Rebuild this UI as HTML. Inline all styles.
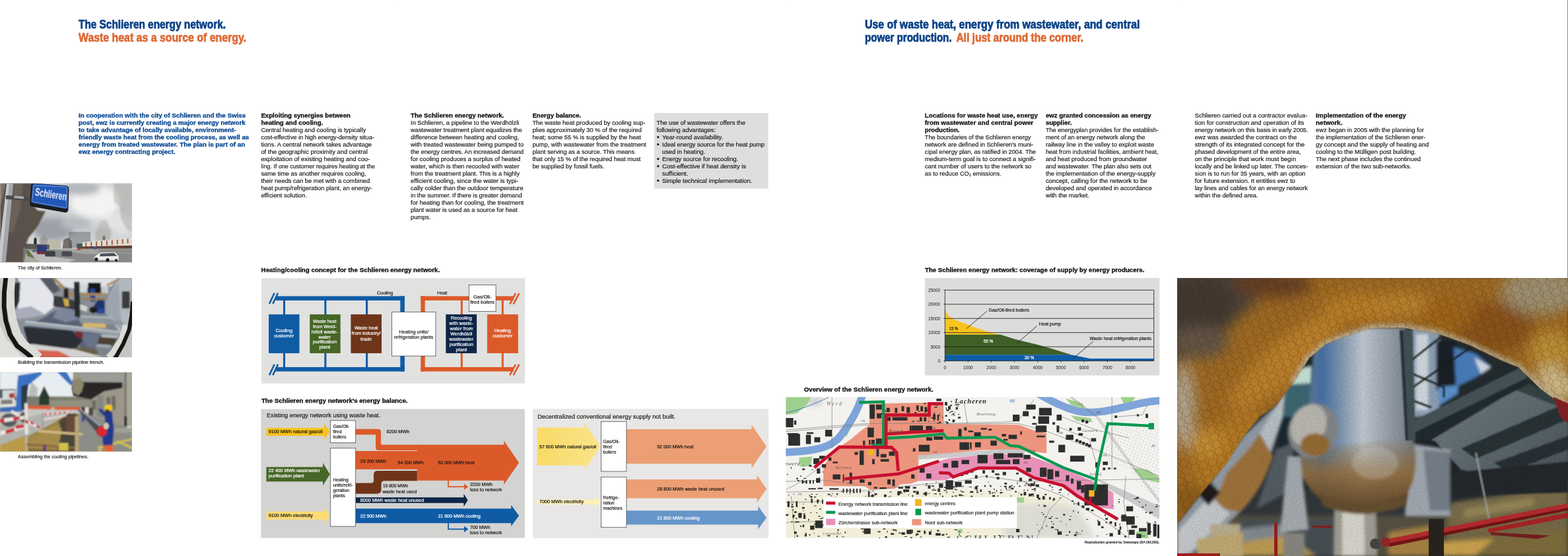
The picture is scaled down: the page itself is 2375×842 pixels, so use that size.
<!DOCTYPE html>
<html lang="en"><head><meta charset="utf-8"><title>The Schlieren energy network</title>
<style>
html,body{margin:0;padding:0;background:#fff}
body{width:2375px;height:842px;overflow:hidden;position:relative}
svg{position:absolute;left:0;top:0;display:block}
svg text{font-family:"Liberation Sans",sans-serif;white-space:pre}
</style></head><body>
<svg width="2375" height="842" viewBox="0 0 2375 842">
<rect x="2374" y="0" width="1" height="421" fill="#8a8a8a"/>
<g fill="#e9e9e9"><rect x="595" y="0" width="1" height="1"/><rect x="1190" y="0" width="1" height="1"/><rect x="1783" y="0" width="1" height="1"/></g>
<rect x="991" y="171.2" width="172.5" height="114.5" fill="#dededd"/>
<rect x="995.3" y="206.2" width="2.9" height="2.9" fill="#1d1d1b"/>
<rect x="995.3" y="217.2" width="2.9" height="2.9" fill="#1d1d1b"/>
<rect x="995.3" y="239.2" width="2.9" height="2.9" fill="#1d1d1b"/>
<rect x="995.3" y="250.2" width="2.9" height="2.9" fill="#1d1d1b"/>
<rect x="995.3" y="272.1" width="2.9" height="2.9" fill="#1d1d1b"/>
<g id="photos">
<svg x="0" y="277" width="200" height="121" viewBox="0 0 1392 842" preserveAspectRatio="none" overflow="hidden">
<defs>
<filter id="pb3" x="-10%" y="-10%" width="120%" height="120%"><feGaussianBlur stdDeviation="3"/></filter>
<filter id="pb6" x="-10%" y="-10%" width="120%" height="120%"><feGaussianBlur stdDeviation="6"/></filter>
<filter id="pb15" x="-20%" y="-20%" width="140%" height="140%"><feGaussianBlur stdDeviation="15"/></filter>
<filter id="pb30" x="-30%" y="-30%" width="160%" height="160%"><feGaussianBlur stdDeviation="30"/></filter>
</defs>
<clipPath id="p1c"><rect x="0" y="4" width="1392" height="832"/></clipPath>
<g clip-path="url(#p1c)">
<rect x="0" y="0" width="1392" height="842" fill="#d3d5d7"/>
<g filter="url(#pb30)">
<ellipse cx="1000" cy="200" rx="260" ry="170" fill="#f3f3f3"/>
<ellipse cx="1250" cy="430" rx="200" ry="100" fill="#e3e3e3"/>
<ellipse cx="860" cy="60" rx="200" ry="70" fill="#b4b8bc"/>
<ellipse cx="560" cy="480" rx="220" ry="130" fill="#9ca1a8"/>
<ellipse cx="800" cy="420" rx="160" ry="70" fill="#b7babf"/>
<ellipse cx="1000" cy="520" rx="200" ry="60" fill="#c9cbce"/>
<ellipse cx="560" cy="330" rx="120" ry="50" fill="#c4c6c9"/>
</g>
<g filter="url(#pb6)">
<path d="M1200 0 L1392 0 L1392 520 L1330 480 L1280 380 L1260 250 L1200 200 Z" fill="#8b8078" fill-opacity="0.3"/>
<path d="M1000 660 L1010 520 L1060 400 L1120 390 L1170 500 L1160 660 Z" fill="#8a847c" fill-opacity="0.3"/>
<path d="M1085 560 L1105 560 L1108 670 L1088 670 Z" fill="#5a5048"/>
<path d="M410 680 L425 580 L470 550 L505 600 L500 680 Z" fill="#8a857e" fill-opacity="0.6"/>
</g>
<g filter="url(#pb3)">
<rect x="725" y="515" width="230" height="170" fill="#596068" fill-opacity="0.45"/>
<path d="M660 690 L670 600 L720 575 L755 610 L760 690 Z" fill="#4c4641" fill-opacity="0.7"/>
<path d="M500 610 L570 590 L640 612 L640 690 L500 690 Z" fill="#bdb9a8"/>
<path d="M355 690 L358 590 L372 572 L386 590 L388 690 Z" fill="#26322a"/>
<path d="M260 640 L520 650 L520 700 L260 700 Z" fill="#5b5a54"/>
<path d="M870 625 L1392 575 L1392 670 L870 680 Z" fill="#e2dbd0"/>
<rect x="900" y="628" width="14" height="50" fill="#a0604c"/>
<rect x="955" y="623" width="14" height="50" fill="#a0604c"/>
<rect x="1010" y="618" width="14" height="50" fill="#a0604c"/>
<rect x="1065" y="613" width="14" height="50" fill="#a0604c"/>
<rect x="1120" y="608" width="14" height="50" fill="#a0604c"/>
<rect x="1175" y="603" width="14" height="50" fill="#a0604c"/>
<rect x="1230" y="598" width="14" height="50" fill="#a0604c"/>
<rect x="1285" y="593" width="14" height="50" fill="#a0604c"/>
<rect x="1340" y="588" width="14" height="50" fill="#a0604c"/>
<path d="M850 672 L1392 660 L1392 700 L850 700 Z" fill="#5f3d35"/>
<rect x="810" y="640" width="60" height="45" fill="#4a5258"/>
<path d="M250 700 L1392 695 L1392 842 L250 842 Z" fill="#87898b"/>
<path d="M520 695 L1392 690 L1392 745 L900 750 Z" fill="#a3a49e"/>
<path d="M1040 700 L1392 695 L1392 740 L1040 745 Z" fill="#8d8f86"/>
<path d="M280 705 L420 800 L460 842 L250 842 Z" fill="#a9a8a0"/>
<path d="M265 708 L300 712 L365 795 L290 770 Z" fill="#5e7640"/>
<path d="M300 705 L520 770 L800 810 L700 842 L420 842 Z" fill="#b9babb"/>
<rect x="390" y="655" width="100" height="95" rx="8" fill="#2b3b7c"/>
<rect x="392" y="725" width="96" height="25" fill="#7a3030"/>
<rect x="340" y="700" width="50" height="30" rx="8" fill="#6a6c70"/>
<rect x="475" y="718" width="108" height="58" rx="14" fill="#3d4045"/>
<rect x="650" y="718" width="110" height="56" rx="14" fill="#4a4c50"/>
<path d="M990 790 L1010 765 L1060 735 L1210 730 L1250 770 L1252 815 L1000 812 Z" fill="#ebebeb"/>
<path d="M1060 745 L1200 738 L1235 770 L1050 775 Z" fill="#4d5156"/>
<circle cx="1015" cy="805" r="18" fill="#1e1e1e"/><circle cx="1135" cy="812" r="18" fill="#1e1e1e"/><circle cx="1225" cy="815" r="14" fill="#1e1e1e"/>
<rect x="815" y="682" width="36" height="26" fill="#b83a3a"/><rect x="985" y="670" width="36" height="30" fill="#3a58a8"/>
<rect x="800" y="520" width="6" height="220" fill="#9a9a9a"/>
</g>
<g filter="url(#pb6)">
<path d="M0 0 L345 0 L320 215 L400 290 L480 300 L400 450 L300 580 L255 700 L250 842 L0 842 Z" fill="#4a4038" fill-opacity="0.88"/>
<path d="M150 0 L240 0 L215 250 L140 520 L80 520 Z" fill="#786d62" fill-opacity="0.55"/>
<path d="M330 290 L470 305 L380 480 L280 600 Z" fill="#5d5249" fill-opacity="0.85"/>
<path d="M0 0 L60 0 L0 250 Z" fill="#8c8378" fill-opacity="0.7"/>
</g>
<g filter="url(#pb3)">
<path d="M72 0 L142 0 L60 842 L0 842 L0 640 Z" fill="#a2a6aa"/>
<path d="M72 0 L98 0 L15 842 L0 842 L0 640 Z" fill="#c6c9cc"/>
<path d="M62 130 L310 150 L310 192 L62 170 Z" fill="#4a4c4e"/>
<path d="M150 135 L250 142 L250 168 L150 160 Z" fill="#a9abad"/>
<path d="M326 30 Q330 2 358 4 L695 28 Q728 34 726 70 L720 280 Q716 316 684 312 L340 250 Q312 244 314 215 Z" fill="#1a1c20"/>
<path d="M346 18 Q349 6 362 7 L690 32 Q716 36 716 62 L712 256 Q710 276 690 273 L344 210 Q326 206 328 192 Z" fill="#2458b8"/>
<path d="M354 26 L688 42 Q706 44 706 64 L702 252 Q700 264 688 262 L348 200 Q338 198 339 188 Z" fill="none" stroke="#dfe6f2" stroke-width="3"/>
</g>
<text x="0" y="0" transform="translate(364 132) rotate(9.3)" font-size="112" font-weight="700" fill="#eef2f8" textLength="338" lengthAdjust="spacingAndGlyphs" filter="url(#pb3)">Schlieren</text>
</g>
</svg>
<svg x="0" y="421" width="200" height="120" viewBox="0 0 1403 842" preserveAspectRatio="none" overflow="hidden">
<rect x="0" y="0" width="1403" height="842" fill="#8b9199"/>
<g filter="url(#pb6)">
<path d="M420 0 L1260 0 L1180 90 L760 110 L560 60 Z" fill="#dfe3e6"/>
<path d="M1260 0 L1403 0 L1403 700 L1290 600 L1130 420 L1130 250 Z" fill="#b2b8c0"/>
<path d="M1130 250 L1260 40 L1280 400 L1300 560 L1130 420 Z" fill="#9da4ad"/>
<rect x="1295" y="140" width="85" height="185" rx="12" fill="#3a3c39"/>
<rect x="935" y="50" width="135" height="125" fill="#131416"/>
<rect x="830" y="70" width="92" height="85" fill="#cdd6da"/>
<rect x="1080" y="90" width="70" height="75" fill="#c4ccd0"/>
<path d="M955 110 L1012 110 L1015 250 L960 250 Z" fill="#27458c"/>
<path d="M1000 290 L1050 220 L1110 240 L1110 380 L1035 380 Z" fill="#1f3468"/>
<path d="M1040 325 L1102 325 L1102 382 L1040 382 Z" fill="#2c4c9c"/>
<ellipse cx="992" cy="340" rx="40" ry="34" fill="#1b1b1d"/>
<path d="M550 0 L590 0 L800 200 L750 200 Z" fill="#a78656"/>
<path d="M850 160 L1130 160 L1130 185 L850 188 Z" fill="#a78656"/>
<path d="M870 215 L1130 210 L1130 232 L870 238 Z" fill="#9a7a50"/>
<path d="M1130 70 L1260 0 L1270 20 L1140 90 Z" fill="#a78656"/>
<path d="M800 370 L1130 380 L1320 640 L1100 842 L750 842 Z" fill="#7d838b"/>
<path d="M880 478 L1120 482 L1130 530 L885 528 Z" fill="#d6b56e"/>
<path d="M1040 620 L1250 630 L1200 720 L1030 710 Z" fill="#4b4131"/>
<path d="M850 395 L1210 410 L1215 438 L850 424 Z" fill="#a7afb6"/>
<path d="M830 430 L1280 455 L1330 500 L830 470 Z" fill="#8d959d"/>
<path d="M1080 600 L1260 612 L1250 640 L1080 630 Z" fill="#b0b8bf"/>
<path d="M1020 700 L1180 712 L1170 742 L1020 732 Z" fill="#a0a8b0"/>
<path d="M430 440 L600 340 L760 310 L830 420 L870 520 L1070 590 L1010 760 L880 770 L800 640 L560 700 L330 700 L250 520 Z" fill="#586276"/>
<path d="M600 340 L760 310 L830 440 L700 470 L560 420 Z" fill="#7b8599"/>
<path d="M250 520 L760 560 L880 660 L800 760 L520 770 L300 700 Z" fill="#2a2d36"/>
<path d="M860 590 L1070 595 L1020 740 L920 740 L880 660 Z" fill="#687288"/>
<path d="M750 745 L930 735 L1045 775 L1030 815 L790 812 Z" fill="#6b5f4a"/>
<path d="M800 570 L880 575 L880 640 L810 630 Z" fill="#7a2a2e"/>
<path d="M270 455 L1300 568 L1290 612 L265 502 Z" fill="#9aa2aa"/>
<path d="M270 455 L1300 568 L1298 580 L268 468 Z" fill="#c4cace"/>
<path d="M190 0 L420 0 L560 170 L585 300 L480 385 L330 420 L160 432 L200 250 L215 100 Z" fill="#e4e6ec"/>
<path d="M160 330 L330 300 L470 380 L330 422 L160 435 Z" fill="#a9adba"/>
<path d="M150 60 L215 40 L205 250 L165 340 L150 250 Z" fill="#2c2d33"/>
<path d="M340 0 L560 0 L640 130 L560 170 L420 0 Z" fill="#565c66"/>
<path d="M570 190 L680 205 L930 295 L922 362 L680 315 L565 300 Z" fill="#393a3f"/>
<path d="M850 275 L930 300 L922 360 L850 340 Z" fill="#d4d4cf"/>
<path d="M668 215 L728 228 L735 300 L690 300 Z" fill="#cfae46"/>
<path d="M680 110 L725 110 L728 215 L680 205 Z" fill="#222326"/>
<path d="M785 40 L845 40 L852 420 L795 410 Z" fill="#27292a"/>
<path d="M330 700 L800 760 L1100 842 L300 842 Z" fill="#d2d2d2"/>
<path d="M390 765 L620 775 L760 842 L400 842 Z" fill="#d96352"/>
</g>
<g filter="url(#pb3)">
<path d="M0 0 L70 0 L30 150 L20 300 L40 450 L85 600 L160 720 L270 800 L320 842 L0 842 Z" fill="#c9cac6"/>
<path d="M0 500 L60 640 L200 800 L240 842 L0 842 Z" fill="#e0e0dc"/>
<path d="M1403 380 L1403 842 L1230 842 L1310 700 L1375 550 Z" fill="#c4c5c1"/>
<path d="M120 0 L110 150 L112 300 L135 450 L180 590 L250 700 L350 780 L420 842" fill="none" stroke="#dcdcd6" stroke-width="85"/>
<path d="M1340 500 L1290 650 L1200 790 L1150 842" fill="none" stroke="#dcdcd6" stroke-width="60"/>
<path d="M62 -10 L45 150 L42 300 L60 450 L105 600 L180 720 L290 805 L340 850" fill="none" stroke="#141414" stroke-width="48"/>
<path d="M1410 250 L1398 400 L1372 550 L1310 700 L1225 850" fill="none" stroke="#141414" stroke-width="42"/>
</g>
</svg>
<svg x="0" y="563" width="200" height="121" viewBox="0 0 1392 842" preserveAspectRatio="none" overflow="hidden">
<clipPath id="p3c"><rect x="0" y="6" width="1392" height="836"/></clipPath>
<g clip-path="url(#p3c)">
<rect x="0" y="0" width="1392" height="842" fill="#bdbdb8"/>
<g filter="url(#pb6)">
<rect x="0" y="0" width="800" height="270" fill="#e7edf0"/>
<path d="M270 258 L960 262 L960 380 L270 370 Z" fill="#7c7c6e"/>
<path d="M520 300 L960 300 L960 370 L520 370 Z" fill="#918f80"/>
<path d="M465 150 L520 260 L520 350 L410 350 L415 260 Z" fill="#2a3a2d"/>
<path d="M330 100 L400 180 L390 260 L300 260 Z" fill="#b0b0aa" fill-opacity="0.8"/>
<path d="M0 390 L860 390 L860 520 L0 600 Z" fill="#c6c6c2"/>
<path d="M0 560 L450 440 L700 440 L300 700 L0 800 Z" fill="#b2b2ae"/>
<path d="M770 0 L1392 0 L1392 610 L960 600 L960 290 L770 250 Z" fill="#9c978a"/>
<path d="M840 0 L1392 0 L1392 112 L840 108 Z" fill="#9a9c98"/>
<path d="M760 108 L1290 112 L1290 170 L1100 205 L960 292 L770 252 L755 180 Z" fill="#292826"/>
<path d="M1320 0 L1392 0 L1392 590 L1335 590 Z" fill="#a9a597"/>
<rect x="1314" y="0" width="18" height="480" fill="#6d6b64"/>
<rect x="1310" y="470" width="28" height="110" fill="#262626"/>
<path d="M1020 250 L1090 245 L1090 480 L1020 470 Z" fill="#86867f"/>
<path d="M970 300 L1010 300 L1010 400 L970 400 Z" fill="#6c6a62"/>
<path d="M1125 268 L1162 266 L1162 345 L1125 345 Z" fill="#6c6a62"/>
<path d="M1178 258 L1218 256 L1218 400 L1178 400 Z" fill="#6c6a62"/>
<rect x="1325" y="575" width="55" height="30" fill="#e0e0dc"/>
<path d="M830 440 L980 470 L1392 600 L1392 842 L820 842 Z" fill="#8d8d88"/>
<path d="M1200 600 L1392 590 L1392 640 L1220 640 Z" fill="#a3a29a"/>
<path d="M1030 790 L1392 700 L1392 718 L1050 808 Z" fill="#d8c244"/>
<path d="M1230 720 L1392 790 L1392 815 L1240 745 Z" fill="#d8c244"/>
<path d="M1030 790 L1050 790 L1075 842 L1050 842 Z" fill="#d8c244"/>
<rect x="860" y="370" width="40" height="90" fill="#3a3a3c"/><rect x="935" y="380" width="45" height="80" fill="#4a443c"/><rect x="895" y="375" width="40" height="60" fill="#d8d8d4"/>
<rect x="862" y="470" width="30" height="55" fill="#2a4a9a"/>
<path d="M290 358 L540 362 L540 398 L290 392 Z" fill="#e05a32"/>
<path d="M575 368 L850 372 L850 402 L575 400 Z" fill="#e05a32"/>
<path d="M290 680 L520 560 L700 450 L830 440 L830 842 L290 842 Z" fill="#9a8448"/>
<path d="M620 520 L720 440 L810 440 L800 842 L600 842 L650 640 Z" fill="#4a4438"/>
<path d="M690 470 L790 450 L780 640 L700 640 Z" fill="#6a4a3a"/>
<path d="M0 770 L265 672 L275 842 L0 842 Z" fill="#b99a4a"/>
<path d="M310 700 L600 560 L650 600 L600 842 L310 842 Z" fill="#a48a4c"/>
<path d="M400 612 L870 648 L870 672 L400 636 Z" fill="#d2ba84"/>
<path d="M280 755 L790 790 L790 812 L280 778 Z" fill="#8a6840"/>
<path d="M300 810 L790 828 L790 842 L300 832 Z" fill="#7a5a38"/>
<path d="M620 750 L720 750 L720 830 L620 830 Z" fill="#cfc050"/>
<rect x="790" y="470" width="40" height="372" fill="#b8a878"/>
<rect x="455" y="770" width="30" height="70" fill="#5a3a7a"/>
<path d="M0 185 L165 185 L170 300 L0 300 Z" fill="#3a424c"/>
<path d="M25 195 L160 195 L160 275 L25 278 Z" fill="#d0d8d8"/>
<path d="M95 230 L150 225 L155 280 L100 285 Z" fill="#b03a34"/>
<path d="M0 280 L150 275 L165 380 L0 385 Z" fill="#e6e6e0"/>
<path d="M10 295 L130 290 L135 340 L10 345 Z" fill="#3a3a3a" fill-opacity="0.6"/>
<path d="M0 375 L230 360 L240 420 L0 425 Z" fill="#3a6cb8"/>
<ellipse cx="95" cy="510" rx="85" ry="72" fill="#5a5a58"/>
<ellipse cx="250" cy="480" rx="45" ry="55" fill="#4a4a48"/>
<path d="M190 40 L430 0 L445 22 L300 140 L265 400 L170 410 L180 150 Z" fill="#3b71c2"/>
<path d="M225 150 L300 130 L270 400 L225 400 Z" fill="#2a3a4a"/>
<path d="M600 0 L700 0 L775 128 L742 142 Z" fill="#3b71c2"/>
<path d="M760 80 L850 68 L885 130 L860 210 L825 250 L770 220 Z" fill="#8c876c"/>
<path d="M258 330 L290 330 L300 660 L262 660 Z" fill="#e6e2de"/>
<rect x="445" y="430" width="14" height="150" fill="#9a9a98"/>
<path d="M0 495 L255 462 L258 500 L0 540 Z" fill="#eae6e4"/>
<path d="M0 498 L45 492 L45 535 L0 540 Z" fill="#c8303a"/><path d="M140 478 L205 470 L208 505 L142 515 Z" fill="#c8303a"/>
<path d="M120 400 L210 450 L200 470 L120 430 Z" fill="#eae6e4"/>
<path d="M0 628 L250 562 L255 600 L0 672 Z" fill="#eae6e4"/>
<path d="M58 615 L150 592 L153 628 L60 655 Z" fill="#c8303a"/><path d="M165 565 L250 555 L252 590 L168 602 Z" fill="#c8303a"/>
<path d="M262 500 L420 575 L418 600 L262 540 Z" fill="#eae6e4"/>
<path d="M265 502 L300 518 L300 552 L265 540 Z" fill="#c8303a"/><path d="M320 520 L355 535 L355 560 L320 548 Z" fill="#c8303a"/><path d="M385 560 L420 575 L420 598 L385 585 Z" fill="#c8303a"/>
<path d="M460 440 L720 415 L720 435 L460 462 Z" fill="#e6d4d0"/>
<path d="M460 490 L700 450 L700 468 L460 515 Z" fill="#e6d4d0"/>
<rect x="470" y="440" width="22" height="18" fill="#c8303a"/>
<rect x="520" y="435" width="22" height="18" fill="#c8303a"/>
<rect x="570" y="430" width="22" height="18" fill="#c8303a"/>
<rect x="620" y="425" width="22" height="18" fill="#c8303a"/>
<rect x="670" y="420" width="22" height="18" fill="#c8303a"/>
<path d="M815 398 L850 395 L1090 575 L1030 650 Z" fill="#4a4e55"/>
<path d="M830 396 L850 395 L1085 572 L1068 590 Z" fill="#9aa0a8"/>
<ellipse cx="1082" cy="628" rx="66" ry="58" fill="#d8262e"/>
<ellipse cx="1082" cy="628" rx="66" ry="58" fill="none" stroke="#3a3a3c" stroke-width="6"/>
<path d="M1095 420 L1180 415 L1200 600 L1185 790 L1090 790 L1078 690 L1130 650 L1110 540 Z" fill="#24388c"/>
<path d="M1040 385 L1075 395 L1110 430 L1100 470 L1050 420 Z" fill="#24388c"/>
<ellipse cx="1145" cy="380" rx="42" ry="36" fill="#f1c81e"/>
<ellipse cx="1132" cy="412" rx="24" ry="16" fill="#3a2a22"/>
<ellipse cx="1120" cy="572" rx="28" ry="34" fill="#d2cca8"/>
<path d="M1100 775 L1190 775 L1195 842 L1105 842 Z" fill="#e8622c"/>
</g></g>
</svg>
<svg x="1783" y="421" width="592" height="421" viewBox="0 0 1184 842" preserveAspectRatio="none" overflow="hidden">
<defs>
<filter id="bb6" x="-10%" y="-10%" width="120%" height="120%"><feGaussianBlur stdDeviation="6"/></filter>
<filter id="bb4" x="-10%" y="-10%" width="120%" height="120%"><feGaussianBlur stdDeviation="4"/></filter>
<filter id="bb12" x="-20%" y="-20%" width="140%" height="140%"><feGaussianBlur stdDeviation="12"/></filter>
<filter id="bb20" x="-30%" y="-30%" width="160%" height="160%"><feGaussianBlur stdDeviation="20"/></filter>
<filter id="bb2" x="-10%" y="-10%" width="120%" height="120%"><feGaussianBlur stdDeviation="2"/></filter>
<filter id="bb1" x="-10%" y="-10%" width="120%" height="120%"><feGaussianBlur stdDeviation="1"/></filter>
<filter id="grain" x="0" y="0" width="100%" height="100%"><feTurbulence type="fractalNoise" baseFrequency="0.35" numOctaves="2" seed="7" result="n"/><feColorMatrix type="matrix" values="0 0 0 0 0  0 0 0 0 0  0 0 0 0 0  0.9 0.9 0.9 0 -0.95"/></filter>
<linearGradient id="vess" x1="0" x2="1" y1="0" y2="0">
 <stop offset="0" stop-color="#748392"/><stop offset="0.2" stop-color="#4a77ae"/><stop offset="0.36" stop-color="#869fba"/>
 <stop offset="0.55" stop-color="#ccd5de"/><stop offset="0.72" stop-color="#aab4be"/><stop offset="0.9" stop-color="#8a949e"/><stop offset="1" stop-color="#737d86"/>
</linearGradient>
<linearGradient id="vessgold" x1="0" x2="0" y1="0" y2="1">
 <stop offset="0" stop-color="#9a7038" stop-opacity="0"/><stop offset="0.5" stop-color="#9a7038" stop-opacity="0.85"/><stop offset="1" stop-color="#5e4224" stop-opacity="0.95"/>
</linearGradient>
<linearGradient id="grat" x1="0" x2="1" y1="0" y2="1">
 <stop offset="0" stop-color="#6c7a80"/><stop offset="0.5" stop-color="#56636a"/><stop offset="1" stop-color="#384246"/>
</linearGradient>
<pattern id="hex" width="28" height="24" patternUnits="userSpaceOnUse" patternTransform="rotate(-18)">
 <path d="M7 0 L21 0 L28 12 L21 24 L7 24 L0 12 Z" fill="none" stroke="#3a2408" stroke-opacity="0.22" stroke-width="2.4"/>
</pattern>
<pattern id="gr" width="7" height="7" patternUnits="userSpaceOnUse" patternTransform="rotate(-30)">
 <rect width="7" height="2.4" fill="#d2d8dc" fill-opacity="0.3"/>
</pattern>
</defs>
<rect width="1184" height="842" fill="#343a3d"/>
<g filter="url(#bb4)">
<rect x="300" y="200" width="140" height="440" fill="#1f2b33"/>
<path d="M330 300 L410 300 L410 420 L320 420 Z" fill="#3f6c78"/>
<path d="M340 280 L408 268 L408 318 L335 322 Z" fill="#cfeee0"/>
<path d="M300 520 L350 500 L350 640 L240 700 Z" fill="#59626a"/>
<rect x="700" y="150" width="484" height="560" fill="#262f33"/>
<rect x="712" y="150" width="82" height="270" fill="#94a9bf"/>
<rect x="724" y="170" width="36" height="230" fill="#dbe3ea"/>
<rect x="785" y="190" width="60" height="150" fill="#1a2329"/>
<path d="M838 210 L905 230 L950 270 L905 300 L845 330 Z" fill="#4d84c6"/>
<path d="M900 240 L950 270 L920 290 Z" fill="#dfe8f0"/>
<path d="M790 330 L850 325 L850 350 L795 385 Z" fill="#5f9ad6"/>
</g>
<g filter="url(#bb6)">
<rect x="0" y="720" width="1184" height="122" fill="#5c5444"/>
<rect x="190" y="730" width="290" height="112" fill="#4b5358"/>
<path d="M190 760 L330 745 L330 790 L190 800 Z" fill="#8a9298"/>
<path d="M200 800 L330 780 L420 842 L180 842 Z" fill="#c7a357"/>
<path d="M820 690 L1184 620 L1184 842 L820 842 Z" fill="#7c6e4c"/>
<path d="M830 680 L1184 628 L1184 690 L830 742 Z" fill="#7f7250"/>
<path d="M870 700 L1080 665 L1080 690 L870 728 Z" fill="#9f8e5c"/>
<path d="M800 800 L1184 760 L1184 842 L760 842 Z" fill="#84723f"/>
<path d="M800 800 L960 790 L900 842 L790 842 Z" fill="#d5aa52"/>
<path d="M640 770 L770 750 L770 842 L640 842 Z" fill="#b08a46"/>
</g>
<g filter="url(#bb2)">
<path d="M770 490 L1060 318 L1184 380 L1184 640 L1000 610 L860 580 Z" fill="url(#grat)"/>
<path d="M770 490 L1060 318 L1184 380 L1184 640 L1000 610 L860 580 Z" fill="url(#gr)"/>
<path d="M860 516 L1184 376 L1184 428 L905 548 Z" fill="#2c3639"/>
<path d="M960 560 L1184 478 L1184 520 L1005 588 Z" fill="#2a3337"/>
<path d="M820 590 L1184 556 L1184 650 L830 660 Z" fill="#262c2e"/>
<path d="M1000 330 L1062 318 L1184 380 L1184 400 Z" fill="#39464a"/>
<path d="M700 440 L1050 266 L1062 312 L716 492 Z" fill="#4a585d"/>
<path d="M706 474 L1060 302 L1064 322 L716 498 Z" fill="#242d31"/>
<path d="M716 492 L780 492 L860 580 L830 600 Z" fill="#20282b"/>
<g stroke="#1c2123" stroke-width="5" fill="none"><path d="M706 252 L800 178"/><path d="M712 332 L890 210"/><path d="M712 290 L808 330 L808 362"/><path d="M716 372 L770 392"/></g>
<path d="M905 530 L945 730" stroke="#a8b0b4" stroke-width="4" fill="none"/>
</g>
<g filter="url(#bb4)">
<path d="M700 500 L828 520 L828 722 L690 722 Z" fill="#a9b1b9"/>
<path d="M745 520 L828 528 L828 705 L765 705 Z" fill="#7b8690"/>
</g>
<g filter="url(#bb4)">
<path d="M412 230 Q430 160 560 150 L690 150 L712 470 Q735 600 690 660 Q600 720 480 690 Q380 650 370 560 L400 380 Z" fill="url(#vess)"/>
<path d="M370 520 L720 480 Q735 600 690 660 Q600 730 480 695 Q380 650 370 560 Z" fill="url(#vessgold)"/>
<ellipse cx="600" cy="560" rx="70" ry="50" fill="#d9dde0" fill-opacity="0.3"/>
<path d="M476 690 L602 690 L606 842 L474 842 Z" fill="#a9a79d"/>
<path d="M500 690 L566 690 L568 842 L500 842 Z" fill="#e2e0d6"/>
<path d="M430 650 Q540 720 700 650 L690 690 Q560 740 440 690 Z" fill="#6a5232"/>
<path d="M335 540 L372 540 L398 762 L312 772 Z" fill="#aeb4b8"/>
<ellipse cx="412" cy="462" rx="76" ry="84" fill="#8a8d90" transform="rotate(25 412 462)"/>
<ellipse cx="398" cy="446" rx="52" ry="66" fill="#c3c1b8" transform="rotate(25 398 446)"/>
<ellipse cx="418" cy="505" rx="44" ry="34" fill="#9c7034"/>
</g>
<g filter="url(#bb2)"><path d="M674 158 L712 158 L722 492 L692 492 Z" fill="#46545a"/><path d="M674 158 L684 158 L700 492 L692 492 Z" fill="#2c363a"/></g>
<g filter="url(#bb4)">
<path d="M330 330 L322 420 L285 530 L240 640 L200 700 L125 770 L40 842 L0 842 L0 745 L100 620 L200 480 L300 385 Z" fill="#9aa4ae"/>
<path d="M326 350 L318 420 L282 520 L250 580 L215 540 L262 450 Z" fill="#c3cad2"/>
<path d="M150 590 Q220 520 250 470 L290 540 Q260 640 190 710 L110 690 Z" fill="#a5783c"/>
<path d="M0 770 L100 660 L160 715 L40 830 L0 842 Z" fill="#cfd3d6"/>
<rect x="100" y="745" width="92" height="100" fill="#c2b796"/>
<path d="M60 790 L200 770 L200 842 L60 842 Z" fill="#c9b27a"/>
<rect x="322" y="772" width="64" height="80" fill="#8f8f86"/>
<path d="M85 600 L130 650 L95 690 L55 645 Z" fill="#241f1c"/>
</g>
<g filter="url(#bb2)">
<path d="M0 0 L1184 0 L1184 395 L1100 335 L1034 270 L984 250 L884 202 L784 166 L680 150 L584 152 L500 180 L450 200 L400 242 L350 320 L300 385 L250 420 L200 480 L150 560 L100 620 L50 680 L0 745 Z" fill="#aa7226"/>
</g>
<clipPath id="archclip"><path d="M0 0 L1184 0 L1184 395 L1100 335 L1034 270 L984 250 L884 202 L784 166 L680 150 L584 152 L500 180 L450 200 L400 242 L350 320 L300 385 L250 420 L200 480 L150 560 L100 620 L50 680 L0 745 Z"/></clipPath>
<g clip-path="url(#archclip)">
<g filter="url(#bb20)">
<path d="M-60 -60 L300 -60 L250 60 L170 135 L100 215 L50 240 L-60 270 Z" fill="#51463d"/>
<ellipse cx="60" cy="80" rx="110" ry="80" fill="#463c35"/>
<ellipse cx="290" cy="20" rx="120" ry="40" fill="#6e4526"/>
<ellipse cx="70" cy="195" rx="85" ry="50" fill="#6b5c4c"/>
<ellipse cx="330" cy="250" rx="220" ry="60" fill="#c8882e" transform="rotate(-40 330 250)"/>
<ellipse cx="560" cy="90" rx="120" ry="45" fill="#c4862c"/>
<ellipse cx="150" cy="520" rx="150" ry="70" fill="#bd8028" transform="rotate(-50 150 520)"/>
<ellipse cx="90" cy="500" rx="55" ry="45" fill="#d09634"/>
<ellipse cx="40" cy="680" rx="50" ry="60" fill="#94621c"/>
<ellipse cx="690" cy="80" rx="90" ry="35" fill="#c88c30"/>
<ellipse cx="960" cy="150" rx="120" ry="75" fill="#93581a"/>
<ellipse cx="820" cy="110" rx="80" ry="50" fill="#aa6c1e"/>
<ellipse cx="1100" cy="40" rx="120" ry="70" fill="#a89a78"/>
<ellipse cx="1135" cy="220" rx="70" ry="60" fill="#c8983a"/>
<ellipse cx="20" cy="390" rx="32" ry="130" fill="#bdb4a2"/>
<ellipse cx="1150" cy="320" rx="70" ry="45" fill="#dcc692" transform="rotate(35 1150 320)"/>
</g>
<g filter="url(#bb6)"><path d="M1184 395 L1100 335 L1034 270 L984 250 L884 202 L784 166 L680 150 L584 152 L500 180 L450 200 L400 242 L350 320" fill="none" stroke="#cfc8b4" stroke-opacity="0.75" stroke-width="22"/></g>
<rect width="1184" height="842" fill="url(#hex)"/>
</g>
<g filter="url(#bb1)">
<path d="M640 790 L1184 682 L1184 702 L642 812 Z" fill="#bf2f30"/>
<path d="M640 804 L1184 696 L1184 704 L642 814 Z" fill="#7a1818"/>
<path d="M940 760 L1184 710 L1184 726 L945 772 Z" fill="#b02828"/>
<path d="M950 770 L1130 780 L1090 790 L950 778 Z" fill="#7a2020"/>
<rect x="294" y="740" width="10" height="102" fill="#a02424"/>
<rect x="410" y="750" width="60" height="7" fill="#8a2020"/>
<rect x="0" y="834" width="130" height="8" fill="#b02020"/>
<path d="M1140 360 L1184 380 L1184 440 L1160 420 Z" fill="#8a2226"/>
<rect x="762" y="730" width="46" height="112" fill="#2a2522"/>
<circle cx="600" cy="805" r="16" fill="#4a4a48"/>
<circle cx="632" cy="800" r="14" fill="#a02828"/>
</g>
<rect width="1184" height="842" filter="url(#grain)" opacity="0.22"/>
</svg>
</g>
<g id="map"><defs><clipPath id="mapclip"><rect x="0" y="0" width="565.9" height="213.9"/></clipPath><filter id="mb" x="-5%" y="-5%" width="110%" height="110%"><feGaussianBlur stdDeviation="0.35"/></filter><filter id="mb4" x="-20%" y="-20%" width="140%" height="140%"><feGaussianBlur stdDeviation="5"/></filter><pattern id="dots" width="5.2" height="4.6" patternUnits="userSpaceOnUse" patternTransform="rotate(20)"><circle cx="1.2" cy="1.2" r="0.42" fill="#3a3a3a"/></pattern><pattern id="hatch" width="1.4" height="1.4" patternUnits="userSpaceOnUse" patternTransform="rotate(-60)"><rect width="0.5" height="1.4" fill="#8f8f8f"/></pattern></defs>
<g transform="translate(1190.2 601.2)" clip-path="url(#mapclip)">
<rect x="0" y="0" width="566" height="214" fill="#f3f2ee"/>
<g filter="url(#mb4)">
<path d="M0 150 L250 140 L420 150 L470 214 L0 214 Z" fill="#f1edd6"/>
<path d="M330 160 L440 165 L470 214 L330 214 Z" fill="#dcdcd4"/>
<path d="M30 0 L60 0 L50 14 L30 12 Z" fill="#cfcfcf"/>
</g>
<path d="M487 45 L566 48 L566 120 L520 108 L482 100 Z" fill="url(#dots)"/>
<path d="M520 110 L566 125 L566 150 L540 140 Z" fill="url(#dots)"/>
<g fill="#9fcf8e">
<path d="M0 0 L38 0 L32 12 L16 25 L0 27 Z"/>
<path d="M20 92 L40 90 L38 104 L22 106 Z"/>
<path d="M105 20 L110 22 L92 60 L88 58 Z"/>
<path d="M424 2 L450 10 L452 18 L432 12 Z"/><path d="M432 28 L462 32 L464 38 L440 36 Z"/>
<path d="M507 0 L530 0 L524 8 L512 10 Z"/>
<path d="M525 107 L548 110 L566 122 L566 130 L540 124 Z"/><path d="M530 205 L545 200 L550 214 L532 214 Z"/>
<path d="M350 152 L361 152 L361 160 L350 160 Z"/><path d="M260 200 L268 200 L267 206 L260 206 Z"/>
</g>
<g fill="none" stroke="#7ea4d9" stroke-width="11.5">
<path d="M116 -3 C110 18 97 42 82 60 C70 75 50 82 -3 84"/>
<path d="M380 -6 C400 4 420 17 445 22 C470 27 500 18 541 9 C552 7 560 6 570 5"/>
</g>
<path d="M0 24 C20 20 40 12 66 0" fill="none" stroke="#2a6cc0" stroke-width="0.8"/>
<path d="M126 10.5 L160 9.5 L238 8 L238.5 41 L353 42 L380 52 L395 55 L395 85 L380 83.5 L340 80 L300 80 L241 86 L201 92 L201 127 L190 131 L174 132.4 L165 138.8 L127 140 L119.5 135 L57 135 L57 107 L66 89 L81 76 L99 63.5 L114 51 L127 42 Z" fill="#ec957e"/>
<path d="M201 106 L246 93 L305 87 L360 86.5 L380 93 L410 104 L452 122 L470 130 L496 145 L497 170 L470 167 L442 151 L420 135 L376 123 L349 109 L292 109 L253.5 122 L241 126 L201 127 Z" fill="#e791b9"/>
<path d="M200 88 L330 79 L362 80 L362 87 L330 86 L200 95 Z M468 122 L566 165 L566 185 L490 140 Z" fill="#d9d9d9" fill-opacity="0.85"/>
<path d="M200 88 L330 79 L362 80 L362 87 L330 86 L200 95 Z M468 122 L566 165 L566 185 L490 140 Z" fill="url(#hatch)" fill-opacity="0.7"/>
<g fill="none" stroke="#7d7d7d" stroke-width="0.7" filter="url(#mb)">
<path d="M0 50 L70 44 L127 40 L240 40 L330 38 L352 36 L376 4"/><path d="M0 52.5 L70 46.5 L127 42"/>
<path d="M0 140 L15 133 L57 103"/><path d="M0 128 L57 126 L120 134"/><path d="M0 144 L120 142 L190 134 L260 128 L300 120 L360 128 L420 150 L480 185 L520 214"/>
<path d="M430 0 L470 30 L520 100 L566 160"/><path d="M433 0 L473 30 L523 100 L566 156"/>
<path d="M8 150 L14 214"/><path d="M70 0 L70 78"/><path d="M238 6 L239 40"/><path d="M494 0 L494 110"/>
<path d="M240 41 L352 40 L395 52 L470 80 L566 120"/><path d="M418 30 L470 50 L520 62"/><path d="M410 44 L460 64 L470 100"/>
<path d="M500 30 L540 27 L548 12"/><path d="M520 214 L512 160 L515 120"/><path d="M420 150 L400 170 L380 214"/>
<path d="M270 8 L275 40"/><path d="M0 160 L60 158"/><path d="M0 190 L57 188"/><path d="M350 128 L566 124"/>
</g>
<g fill="#2d2d2d" filter="url(#mb)">
<rect x="0.0" y="31.8" width="11.4" height="14.0"/>
<rect x="3.8" y="55.9" width="17.8" height="17.8"/>
<rect x="30.5" y="57.2" width="7.6" height="14.0"/>
<rect x="43.2" y="61.0" width="8.9" height="7.6"/>
<rect x="59.7" y="49.6" width="10.2" height="10.2"/>
<rect x="127.1" y="11.4" width="7.6" height="21.6"/>
<rect x="136.6" y="11.4" width="8.9" height="7.6"/>
<rect x="137.9" y="24.8" width="7.0" height="7.6"/>
<rect x="123.9" y="46.4" width="9.5" height="14.6"/>
<rect x="111.8" y="81.3" width="6.4" height="21.6"/>
<rect x="137.3" y="78.8" width="3.8" height="11.4"/>
<rect x="143.6" y="86.4" width="8.9" height="5.1"/>
<rect x="143.6" y="94.1" width="12.7" height="3.8"/>
<rect x="153.8" y="30.5" width="5.1" height="5.7"/>
<rect x="161.4" y="30.5" width="22.9" height="5.1"/>
<rect x="187.5" y="43.2" width="2.5" height="8.9"/>
<rect x="116.9" y="66.1" width="3.2" height="7.0"/>
<rect x="125.8" y="64.8" width="2.5" height="7.6"/>
<rect x="129.6" y="64.8" width="5.1" height="6.4"/>
<rect x="136.6" y="62.9" width="8.9" height="8.3"/>
<rect x="41.9" y="92.8" width="8.9" height="8.9"/>
<rect x="50.8" y="89.0" width="8.9" height="5.1"/>
<rect x="54.7" y="101.7" width="6.4" height="5.3"/>
<rect x="12.7" y="35.6" width="3.2" height="6.4"/>
<rect x="2.5" y="54.7" width="16.5" height="2.5"/>
<rect x="31.8" y="53.4" width="10.2" height="2.5"/>
<rect x="130.9" y="94.1" width="3.8" height="7.6"/>
<rect x="104.2" y="83.2" width="5.1" height="4.4"/>
<rect x="156.3" y="82.6" width="8.9" height="6.4"/>
<rect x="152.5" y="16.5" width="5.1" height="6.4"/>
<rect x="165.2" y="16.5" width="3.8" height="7.6"/>
<rect x="175.4" y="14.0" width="3.8" height="7.6"/>
<rect x="183.0" y="15.3" width="5.1" height="8.9"/>
<rect x="64.8" y="91.5" width="4.4" height="5.1"/>
<rect x="71.2" y="97.9" width="7.6" height="2.5"/>
<rect x="190.0" y="43.2" width="17.8" height="7.6"/>
<rect x="212.2" y="43.8" width="9.5" height="6.4"/>
<rect x="261.2" y="48.3" width="5.1" height="11.4"/>
<rect x="263.1" y="68.6" width="14.6" height="11.4"/>
<rect x="285.3" y="53.4" width="10.2" height="6.4"/>
<rect x="286.6" y="68.6" width="8.9" height="7.6"/>
<rect x="310.1" y="66.1" width="9.5" height="7.6"/>
<rect x="327.3" y="55.9" width="6.4" height="3.8"/>
<rect x="337.4" y="57.2" width="12.7" height="6.4"/>
<rect x="343.8" y="26.7" width="10.2" height="10.2"/>
<rect x="359.0" y="21.6" width="8.9" height="7.6"/>
<rect x="364.1" y="11.4" width="14.0" height="7.6"/>
<rect x="290.4" y="87.7" width="15.3" height="12.7"/>
<rect x="314.6" y="85.2" width="15.3" height="8.9"/>
<rect x="318.4" y="95.3" width="21.6" height="6.4"/>
<rect x="201.4" y="72.4" width="16.5" height="10.2"/>
<rect x="192.5" y="77.5" width="3.8" height="5.1"/>
<rect x="336.2" y="85.2" width="22.9" height="6.4"/>
<rect x="343.8" y="94.1" width="10.2" height="7.6"/>
<rect x="355.2" y="52.1" width="2.5" height="5.1"/>
<rect x="197.6" y="12.7" width="3.8" height="7.6"/>
<rect x="204.0" y="14.0" width="3.8" height="7.6"/>
<rect x="210.3" y="15.3" width="3.8" height="7.6"/>
<rect x="202.7" y="30.5" width="3.8" height="6.4"/>
<rect x="209.1" y="30.5" width="3.8" height="6.4"/>
<rect x="223.0" y="25.4" width="3.8" height="8.9"/>
<rect x="229.4" y="26.7" width="2.5" height="8.9"/>
<rect x="212.9" y="61.0" width="8.9" height="5.1"/>
<rect x="224.3" y="59.7" width="14.0" height="5.1"/>
<rect x="270.1" y="45.8" width="3.8" height="5.1"/>
<rect x="276.4" y="50.8" width="7.6" height="2.5"/>
<rect x="295.5" y="47.0" width="8.9" height="2.5"/>
<rect x="306.9" y="48.3" width="5.1" height="2.5"/>
<rect x="271.3" y="68.6" width="2.5" height="10.2"/>
<rect x="279.0" y="68.6" width="2.5" height="10.2"/>
<rect x="329.8" y="63.5" width="6.4" height="2.5"/>
<rect x="374.3" y="29.2" width="3.8" height="3.8"/>
<rect x="373.0" y="39.4" width="7.0" height="2.5"/>
<rect x="240.8" y="7.6" width="3.8" height="5.1"/>
<rect x="245.9" y="14.0" width="3.8" height="5.1"/>
<rect x="252.3" y="34.3" width="3.8" height="3.8"/>
<rect x="257.4" y="15.3" width="3.2" height="3.8"/>
<rect x="228.1" y="2.5" width="7.6" height="3.8"/>
<rect x="251.0" y="96.6" width="10.2" height="10.4"/>
<rect x="266.3" y="95.3" width="11.4" height="6.4"/>
<rect x="238.3" y="100.4" width="7.6" height="6.6"/>
<rect x="360.3" y="87.7" width="10.2" height="6.4"/>
<rect x="383.6" y="16.5" width="19.1" height="11.4"/>
<rect x="382.4" y="29.2" width="16.5" height="11.4"/>
<rect x="378.5" y="43.2" width="16.5" height="10.2"/>
<rect x="410.3" y="26.7" width="7.6" height="8.9"/>
<rect x="410.3" y="43.2" width="3.8" height="10.2"/>
<rect x="424.3" y="57.2" width="11.4" height="7.6"/>
<rect x="412.9" y="72.4" width="10.2" height="11.4"/>
<rect x="442.1" y="45.8" width="5.1" height="5.1"/>
<rect x="430.7" y="89.0" width="21.6" height="8.9"/>
<rect x="376.0" y="12.7" width="2.5" height="5.1"/>
<rect x="404.0" y="38.1" width="3.8" height="3.8"/>
<rect x="429.4" y="47.0" width="3.8" height="3.8"/>
<rect x="443.4" y="54.7" width="6.4" height="3.8"/>
<rect x="462.4" y="62.3" width="7.6" height="5.1"/>
<rect x="480.2" y="97.9" width="7.6" height="5.1"/>
<rect x="468.8" y="99.1" width="3.8" height="7.9"/>
<rect x="379.8" y="58.5" width="12.7" height="2.5"/>
<rect x="398.9" y="66.1" width="7.6" height="3.2"/>
<rect x="545.0" y="25.4" width="3.8" height="6.4"/>
<rect x="531.7" y="26.1" width="3.2" height="3.2"/>
<rect x="498.0" y="28.0" width="3.8" height="3.8"/>
<rect x="47.0" y="108.3" width="5.1" height="7.6"/>
<rect x="45.8" y="122.9" width="6.4" height="7.0"/>
<rect x="71.2" y="117.2" width="11.4" height="7.6"/>
<rect x="86.4" y="117.2" width="1.9" height="11.4"/>
<rect x="96.6" y="114.6" width="3.8" height="16.5"/>
<rect x="111.8" y="124.8" width="7.6" height="5.1"/>
<rect x="124.6" y="128.6" width="5.1" height="5.1"/>
<rect x="153.8" y="124.8" width="5.1" height="7.6"/>
<rect x="161.4" y="124.8" width="3.8" height="10.2"/>
<rect x="24.1" y="126.1" width="2.5" height="5.1"/>
<rect x="29.9" y="126.1" width="2.5" height="5.1"/>
<rect x="35.6" y="126.1" width="2.5" height="5.1"/>
<rect x="40.7" y="126.1" width="1.9" height="5.1"/>
<rect x="34.3" y="138.1" width="11.4" height="1.9"/>
<rect x="48.3" y="137.5" width="7.6" height="1.9"/>
<rect x="66.1" y="138.1" width="14.0" height="2.2"/>
<rect x="86.4" y="138.8" width="1.9" height="6.4"/>
<rect x="91.5" y="138.8" width="1.9" height="6.4"/>
<rect x="96.6" y="138.8" width="1.9" height="6.4"/>
<rect x="101.7" y="138.8" width="1.9" height="6.4"/>
<rect x="106.8" y="138.8" width="1.9" height="6.4"/>
<rect x="111.8" y="138.8" width="1.9" height="6.4"/>
<rect x="124.6" y="142.6" width="2.5" height="8.9"/>
<rect x="129.6" y="147.7" width="3.8" height="3.8"/>
<rect x="148.7" y="147.7" width="3.8" height="3.8"/>
<rect x="169.0" y="142.6" width="6.4" height="3.8"/>
<rect x="170.3" y="136.2" width="7.6" height="2.5"/>
<rect x="180.5" y="135.0" width="7.6" height="3.8"/>
<rect x="15.3" y="157.8" width="2.5" height="8.9"/>
<rect x="2.5" y="157.8" width="3.2" height="8.9"/>
<rect x="12.7" y="173.1" width="3.8" height="2.5"/>
<rect x="19.1" y="175.6" width="5.1" height="7.6"/>
<rect x="26.7" y="178.2" width="3.2" height="6.4"/>
<rect x="10.2" y="178.2" width="2.5" height="5.1"/>
<rect x="14.0" y="188.3" width="6.4" height="1.9"/>
<rect x="25.4" y="193.4" width="2.5" height="3.8"/>
<rect x="44.5" y="187.1" width="11.4" height="11.4"/>
<rect x="36.9" y="194.7" width="6.4" height="6.4"/>
<rect x="29.2" y="206.1" width="2.5" height="5.1"/>
<rect x="12.7" y="203.6" width="3.8" height="3.8"/>
<rect x="118.2" y="199.1" width="10.2" height="8.3"/>
<rect x="169.0" y="145.1" width="3.8" height="3.8"/>
<rect x="177.9" y="140.0" width="8.9" height="3.8"/>
<rect x="133.5" y="136.2" width="5.1" height="2.5"/>
<rect x="142.3" y="136.9" width="10.2" height="2.2"/>
<rect x="38.1" y="154.0" width="2.5" height="6.4"/>
<rect x="47.0" y="155.3" width="2.5" height="5.1"/>
<rect x="54.7" y="155.3" width="1.9" height="6.4"/>
<rect x="158.9" y="206.1" width="5.1" height="2.5"/>
<rect x="175.4" y="204.9" width="5.1" height="3.8"/>
<rect x="183.0" y="201.1" width="7.0" height="6.4"/>
<rect x="242.1" y="126.1" width="11.4" height="14.0"/>
<rect x="202.7" y="107.0" width="7.6" height="7.6"/>
<rect x="212.9" y="115.9" width="7.6" height="7.6"/>
<rect x="190.0" y="117.2" width="5.1" height="6.4"/>
<rect x="231.9" y="131.1" width="6.4" height="6.4"/>
<rect x="215.4" y="133.7" width="3.8" height="5.1"/>
<rect x="192.5" y="136.2" width="5.1" height="2.5"/>
<rect x="256.1" y="128.6" width="10.2" height="7.6"/>
<rect x="271.3" y="126.1" width="10.2" height="5.1"/>
<rect x="279.0" y="142.6" width="5.1" height="2.5"/>
<rect x="286.6" y="135.0" width="3.8" height="5.1"/>
<rect x="294.2" y="140.0" width="2.5" height="3.8"/>
<rect x="298.0" y="110.8" width="3.8" height="5.1"/>
<rect x="303.1" y="118.4" width="2.5" height="3.8"/>
<rect x="312.0" y="110.8" width="3.8" height="3.8"/>
<rect x="317.1" y="115.9" width="6.4" height="2.5"/>
<rect x="319.6" y="121.0" width="3.8" height="3.8"/>
<rect x="328.5" y="113.4" width="5.1" height="5.1"/>
<rect x="354.0" y="122.3" width="3.8" height="5.1"/>
<rect x="367.9" y="123.5" width="5.1" height="3.8"/>
<rect x="370.5" y="131.1" width="6.4" height="3.8"/>
<rect x="360.3" y="143.9" width="3.8" height="5.1"/>
<rect x="367.9" y="146.4" width="5.1" height="3.8"/>
<rect x="364.1" y="107.0" width="7.6" height="6.4"/>
<rect x="348.9" y="114.6" width="3.8" height="2.5"/>
<rect x="198.9" y="202.3" width="5.1" height="2.5"/>
<rect x="209.1" y="202.3" width="2.5" height="5.1"/>
<rect x="216.7" y="203.6" width="3.8" height="5.1"/>
<rect x="226.9" y="206.1" width="7.6" height="3.8"/>
<rect x="190.0" y="201.1" width="2.5" height="5.1"/>
<rect x="348.9" y="199.8" width="5.1" height="5.1"/>
<rect x="263.7" y="114.6" width="5.1" height="5.1"/>
<rect x="271.3" y="112.1" width="5.1" height="5.1"/>
<rect x="279.0" y="110.8" width="5.1" height="3.8"/>
<rect x="286.6" y="118.4" width="3.8" height="5.1"/>
<rect x="197.6" y="142.6" width="3.8" height="5.1"/>
<rect x="210.3" y="143.9" width="3.8" height="5.1"/>
<rect x="452.3" y="132.4" width="35.6" height="31.8"/>
<rect x="384.9" y="107.0" width="10.2" height="14.0"/>
<rect x="396.3" y="109.5" width="8.9" height="15.3"/>
<rect x="407.8" y="112.1" width="6.4" height="8.9"/>
<rect x="424.3" y="118.4" width="5.1" height="8.9"/>
<rect x="431.9" y="123.5" width="3.8" height="7.6"/>
<rect x="440.8" y="127.3" width="6.4" height="12.7"/>
<rect x="447.2" y="133.7" width="5.1" height="11.4"/>
<rect x="508.2" y="178.2" width="7.6" height="10.2"/>
<rect x="515.8" y="165.5" width="10.2" height="7.6"/>
<rect x="515.8" y="180.7" width="12.7" height="12.7"/>
<rect x="523.4" y="194.7" width="8.9" height="3.8"/>
<rect x="519.6" y="201.1" width="8.9" height="7.6"/>
<rect x="534.9" y="198.5" width="11.4" height="5.1"/>
<rect x="547.6" y="190.9" width="5.1" height="17.8"/>
<rect x="556.5" y="192.2" width="5.1" height="19.1"/>
<rect x="562.8" y="193.4" width="3.2" height="20.6"/>
<rect x="531.1" y="207.4" width="7.6" height="6.6"/>
<rect x="378.5" y="132.4" width="5.1" height="3.8"/>
<rect x="405.2" y="152.8" width="2.5" height="3.8"/>
<rect x="442.1" y="159.1" width="2.5" height="5.1"/>
<rect x="448.4" y="164.2" width="3.8" height="3.8"/>
<rect x="454.8" y="168.0" width="5.1" height="3.8"/>
<rect x="462.4" y="170.5" width="3.8" height="2.5"/>
<rect x="472.6" y="188.3" width="3.8" height="6.4"/>
<rect x="477.7" y="196.0" width="3.8" height="2.5"/>
<rect x="484.0" y="183.3" width="3.8" height="2.5"/>
<rect x="490.4" y="188.3" width="3.8" height="3.8"/>
<rect x="498.0" y="189.6" width="2.5" height="6.4"/>
<rect x="505.6" y="196.0" width="2.5" height="5.1"/>
<rect x="411.6" y="203.6" width="6.4" height="5.1"/>
<rect x="379.8" y="147.7" width="3.8" height="5.1"/>
<rect x="388.7" y="150.2" width="3.8" height="5.1"/>
<rect x="398.9" y="151.5" width="2.5" height="3.8"/>
<rect x="503.1" y="201.1" width="3.8" height="7.6"/>
<rect x="490.4" y="206.1" width="5.1" height="5.1"/>
<rect x="480.2" y="107.0" width="3.8" height="3.8"/>
<rect x="487.8" y="107.0" width="3.8" height="2.5"/>
<rect x="496.7" y="107.0" width="3.8" height="2.5"/>
<circle cx="450" cy="36.2" r="2.4"/>
<circle cx="456" cy="38" r="2.4"/>
<circle cx="441" cy="66" r="2.4"/>
<circle cx="446" cy="68" r="2.4"/>
<circle cx="451" cy="70" r="2.4"/>
<circle cx="456" cy="72" r="2.4"/>
<circle cx="460" cy="74" r="2.4"/>
<circle cx="313" cy="69" r="2.4"/>
</g>
<g fill="#333" filter="url(#mb)">
<rect x="314.0" y="144.3" width="4.0" height="1.0"/>
<rect x="352.1" y="145.1" width="1.6" height="1.0"/>
<rect x="362.7" y="130.5" width="3.0" height="1.4"/>
<rect x="271.6" y="130.2" width="1.6" height="1.0"/>
<rect x="333.0" y="137.0" width="1.6" height="2.6"/>
<rect x="232.9" y="145.5" width="1.6" height="2.6"/>
<rect x="227.2" y="128.0" width="1.2" height="1.4"/>
<rect x="340.4" y="149.1" width="1.6" height="1.4"/>
<rect x="255.6" y="149.2" width="4.0" height="1.4"/>
<rect x="236.8" y="149.3" width="1.6" height="2.6"/>
<rect x="257.3" y="135.9" width="1.6" height="1.4"/>
<rect x="251.2" y="135.3" width="4.0" height="1.0"/>
<rect x="309.3" y="143.6" width="1.2" height="1.8"/>
<rect x="267.2" y="134.7" width="2.2" height="1.4"/>
<rect x="289.2" y="143.5" width="1.2" height="1.8"/>
<rect x="375.6" y="128.5" width="2.2" height="2.6"/>
<rect x="208.2" y="145.3" width="2.2" height="2.6"/>
<rect x="306.2" y="128.2" width="1.2" height="1.4"/>
<rect x="314.1" y="149.0" width="1.2" height="1.4"/>
<rect x="367.7" y="148.7" width="2.2" height="1.8"/>
<rect x="361.2" y="133.5" width="3.0" height="1.0"/>
<rect x="308.2" y="145.2" width="2.2" height="1.8"/>
<rect x="211.4" y="148.8" width="1.2" height="1.4"/>
<rect x="264.6" y="141.4" width="1.6" height="1.8"/>
<rect x="253.2" y="143.5" width="1.2" height="1.8"/>
<rect x="325.0" y="134.7" width="1.2" height="1.4"/>
<rect x="331.2" y="134.8" width="3.0" height="1.4"/>
<rect x="331.0" y="129.8" width="4.0" height="2.6"/>
<rect x="210.6" y="144.3" width="2.2" height="1.8"/>
<rect x="284.7" y="137.3" width="1.2" height="1.0"/>
<rect x="345.3" y="135.4" width="1.6" height="1.4"/>
<rect x="376.7" y="140.4" width="1.6" height="2.6"/>
<rect x="223.7" y="137.6" width="1.6" height="1.0"/>
<rect x="352.8" y="134.5" width="3.0" height="1.4"/>
<rect x="375.8" y="138.0" width="3.0" height="1.8"/>
<rect x="288.8" y="134.4" width="3.0" height="1.4"/>
<rect x="224.7" y="146.1" width="4.0" height="1.4"/>
<rect x="314.7" y="139.0" width="2.2" height="1.4"/>
<rect x="220.6" y="134.0" width="4.0" height="1.8"/>
<rect x="216.0" y="145.5" width="2.2" height="1.0"/>
<rect x="337.9" y="136.0" width="2.2" height="2.6"/>
<rect x="251.4" y="149.6" width="2.2" height="1.8"/>
<rect x="318.7" y="140.8" width="1.2" height="2.6"/>
<rect x="300.7" y="133.5" width="2.2" height="2.6"/>
<rect x="255.5" y="139.0" width="2.2" height="1.8"/>
<rect x="252.9" y="135.6" width="3.0" height="1.8"/>
<rect x="366.4" y="131.8" width="3.0" height="1.8"/>
<rect x="372.4" y="139.4" width="4.0" height="1.4"/>
<rect x="239.8" y="136.0" width="3.0" height="1.8"/>
<rect x="326.0" y="143.8" width="3.0" height="1.4"/>
<rect x="312.9" y="148.6" width="4.0" height="2.6"/>
<rect x="258.0" y="140.2" width="2.2" height="1.0"/>
<rect x="239.2" y="140.9" width="4.0" height="1.4"/>
<rect x="243.3" y="143.1" width="1.2" height="2.6"/>
<rect x="376.5" y="131.6" width="1.6" height="1.0"/>
<rect x="260.5" y="132.0" width="1.6" height="1.0"/>
<rect x="277.7" y="135.7" width="4.0" height="1.0"/>
<rect x="308.3" y="133.2" width="2.2" height="1.0"/>
<rect x="266.3" y="148.9" width="3.0" height="1.0"/>
<rect x="325.5" y="140.0" width="1.2" height="1.8"/>
<rect x="221.6" y="140.0" width="2.2" height="1.8"/>
<rect x="372.7" y="146.0" width="3.0" height="2.6"/>
<rect x="347.3" y="142.1" width="2.2" height="2.6"/>
<rect x="229.9" y="141.1" width="4.0" height="2.6"/>
<rect x="372.5" y="149.3" width="4.0" height="1.0"/>
<rect x="266.4" y="147.7" width="1.2" height="2.6"/>
<rect x="223.9" y="140.4" width="4.0" height="1.4"/>
<rect x="262.0" y="147.3" width="4.0" height="2.6"/>
<rect x="280.1" y="149.5" width="3.0" height="1.8"/>
<rect x="288.9" y="143.6" width="3.0" height="1.4"/>
<rect x="309.3" y="133.7" width="2.2" height="2.6"/>
<rect x="248.9" y="128.4" width="2.2" height="2.6"/>
<rect x="367.7" y="131.2" width="1.2" height="1.0"/>
<rect x="320.5" y="149.1" width="1.6" height="1.8"/>
<rect x="212.0" y="131.0" width="3.0" height="1.0"/>
<rect x="289.1" y="140.3" width="1.6" height="2.6"/>
<rect x="341.8" y="133.4" width="2.2" height="1.4"/>
<rect x="331.3" y="134.3" width="3.0" height="2.6"/>
<rect x="295.7" y="147.0" width="1.2" height="1.0"/>
<rect x="338.1" y="134.6" width="4.0" height="1.8"/>
<rect x="312.4" y="144.1" width="1.2" height="2.6"/>
<rect x="266.2" y="143.0" width="4.0" height="1.4"/>
<rect x="211.4" y="133.6" width="3.0" height="1.0"/>
<rect x="360.4" y="140.0" width="1.2" height="2.6"/>
<rect x="341.2" y="137.4" width="4.0" height="2.6"/>
<rect x="355.3" y="146.5" width="3.0" height="2.6"/>
<rect x="324.4" y="143.8" width="2.2" height="2.6"/>
<rect x="350.3" y="129.5" width="1.2" height="2.6"/>
<rect x="306.9" y="142.3" width="3.0" height="1.8"/>
<rect x="230.0" y="138.5" width="4.0" height="2.6"/>
<rect x="55.5" y="182.1" width="3.0" height="1.0"/>
<rect x="3.9" y="160.9" width="1.2" height="1.0"/>
<rect x="37.8" y="146.8" width="3.0" height="1.0"/>
<rect x="56.9" y="193.4" width="1.2" height="1.0"/>
<rect x="48.0" y="160.1" width="1.2" height="1.4"/>
<rect x="56.7" y="193.7" width="3.0" height="1.4"/>
<rect x="10.4" y="157.8" width="1.6" height="1.0"/>
<rect x="35.5" y="148.0" width="1.2" height="2.6"/>
<rect x="42.5" y="164.3" width="4.0" height="1.0"/>
<rect x="42.3" y="205.6" width="1.6" height="1.0"/>
<rect x="24.6" y="166.7" width="4.0" height="2.6"/>
<rect x="27.9" y="209.8" width="2.2" height="1.0"/>
<rect x="7.9" y="165.3" width="4.0" height="1.8"/>
<rect x="51.9" y="183.3" width="4.0" height="1.4"/>
<rect x="15.0" y="183.1" width="2.2" height="1.8"/>
<rect x="29.5" y="154.2" width="1.6" height="1.8"/>
<rect x="25.8" y="171.8" width="1.6" height="1.0"/>
<rect x="37.3" y="150.9" width="1.2" height="1.0"/>
<rect x="49.2" y="179.9" width="3.0" height="1.4"/>
<rect x="22.2" y="176.9" width="2.2" height="1.0"/>
<rect x="45.4" y="147.0" width="3.0" height="1.0"/>
<rect x="48.3" y="210.2" width="3.0" height="1.4"/>
<rect x="42.7" y="150.8" width="3.0" height="1.4"/>
<rect x="8.0" y="188.1" width="2.2" height="1.4"/>
<rect x="16.5" y="209.2" width="2.2" height="2.6"/>
<rect x="21.6" y="194.9" width="2.2" height="1.8"/>
<rect x="45.9" y="174.9" width="2.2" height="1.0"/>
<rect x="33.8" y="184.6" width="1.6" height="2.6"/>
<rect x="3.6" y="147.6" width="1.6" height="1.4"/>
<rect x="11.1" y="178.8" width="3.0" height="1.8"/>
<rect x="0.0" y="177.4" width="4.0" height="2.6"/>
<rect x="18.4" y="176.9" width="1.6" height="1.4"/>
<rect x="37.2" y="149.9" width="3.0" height="2.6"/>
<rect x="8.7" y="162.5" width="2.2" height="1.4"/>
<rect x="42.8" y="191.4" width="1.2" height="2.6"/>
<rect x="51.1" y="168.8" width="2.2" height="1.8"/>
<rect x="53.5" y="192.5" width="3.0" height="2.6"/>
<rect x="48.4" y="155.8" width="2.2" height="1.8"/>
<rect x="25.9" y="161.6" width="1.6" height="1.0"/>
<rect x="11.5" y="146.7" width="1.6" height="1.0"/>
<rect x="35.2" y="207.9" width="2.2" height="1.8"/>
<rect x="10.5" y="169.9" width="1.2" height="2.6"/>
<rect x="9.3" y="161.6" width="1.6" height="1.0"/>
<rect x="36.8" y="174.7" width="2.2" height="1.0"/>
<rect x="26.3" y="176.3" width="3.0" height="1.4"/>
<rect x="63.4" y="146.6" width="4.0" height="1.8"/>
<rect x="191.3" y="148.6" width="1.6" height="2.6"/>
<rect x="70.1" y="145.7" width="1.6" height="1.0"/>
<rect x="128.1" y="149.4" width="1.2" height="1.8"/>
<rect x="176.2" y="145.4" width="1.2" height="1.0"/>
<rect x="192.9" y="142.3" width="4.0" height="2.6"/>
<rect x="83.9" y="142.8" width="2.2" height="1.0"/>
<rect x="69.4" y="151.8" width="1.6" height="1.0"/>
<rect x="179.5" y="142.6" width="1.2" height="2.6"/>
<rect x="134.2" y="145.8" width="4.0" height="2.6"/>
<rect x="131.7" y="141.6" width="1.2" height="1.8"/>
<rect x="155.5" y="150.7" width="1.6" height="1.0"/>
<rect x="76.8" y="145.8" width="2.2" height="2.6"/>
<rect x="101.7" y="141.6" width="1.2" height="2.6"/>
<rect x="92.0" y="141.0" width="3.0" height="1.4"/>
<rect x="96.4" y="145.9" width="1.6" height="1.0"/>
<rect x="157.6" y="149.6" width="2.2" height="1.0"/>
<rect x="67.3" y="149.2" width="3.0" height="1.0"/>
<rect x="185.1" y="147.8" width="1.6" height="1.0"/>
<rect x="120.2" y="149.8" width="1.2" height="1.0"/>
<rect x="157.3" y="143.2" width="3.0" height="1.4"/>
<rect x="102.9" y="143.7" width="1.6" height="1.8"/>
<rect x="128.2" y="143.9" width="1.2" height="1.0"/>
<rect x="134.6" y="148.9" width="1.2" height="1.0"/>
<rect x="74.4" y="151.6" width="2.2" height="2.6"/>
<rect x="291.7" y="213.2" width="4.0" height="1.0"/>
<rect x="120.1" y="205.4" width="2.2" height="1.4"/>
<rect x="147.2" y="199.2" width="4.0" height="1.4"/>
<rect x="255.4" y="200.4" width="4.0" height="1.4"/>
<rect x="229.1" y="201.2" width="3.0" height="2.6"/>
<rect x="89.3" y="203.8" width="1.6" height="2.6"/>
<rect x="219.8" y="201.6" width="1.2" height="1.4"/>
<rect x="202.4" y="213.5" width="4.0" height="1.0"/>
<rect x="85.3" y="211.2" width="3.0" height="1.0"/>
<rect x="113.7" y="199.0" width="4.0" height="1.4"/>
<rect x="188.6" y="212.2" width="3.0" height="2.6"/>
<rect x="115.9" y="203.2" width="1.6" height="1.8"/>
<rect x="210.5" y="204.4" width="1.6" height="1.8"/>
<rect x="153.0" y="202.7" width="1.2" height="2.6"/>
<rect x="166.4" y="201.1" width="1.6" height="2.6"/>
<rect x="161.2" y="200.4" width="3.0" height="1.0"/>
<rect x="262.7" y="203.2" width="1.6" height="1.8"/>
<rect x="187.3" y="206.1" width="4.0" height="1.0"/>
<rect x="275.5" y="204.6" width="1.2" height="1.0"/>
<rect x="196.7" y="207.8" width="1.6" height="2.6"/>
<rect x="63.1" y="209.2" width="4.0" height="1.8"/>
<rect x="197.2" y="206.5" width="4.0" height="2.6"/>
<rect x="179.8" y="210.8" width="4.0" height="1.0"/>
<rect x="203.5" y="211.0" width="2.2" height="1.0"/>
<rect x="242.5" y="206.8" width="2.2" height="1.8"/>
<rect x="78.2" y="200.3" width="2.2" height="2.6"/>
<rect x="140.8" y="212.9" width="2.2" height="1.4"/>
<rect x="76.7" y="210.3" width="2.2" height="1.8"/>
<rect x="244.7" y="211.6" width="4.0" height="1.4"/>
<rect x="188.9" y="200.4" width="1.2" height="1.4"/>
<rect x="150.4" y="210.8" width="3.0" height="2.6"/>
<rect x="321.6" y="209.1" width="3.0" height="1.4"/>
<rect x="262.0" y="206.9" width="1.6" height="1.8"/>
<rect x="162.6" y="200.6" width="4.0" height="1.8"/>
<rect x="125.0" y="200.5" width="2.2" height="1.8"/>
<rect x="274.7" y="211.0" width="1.2" height="1.4"/>
<rect x="77.9" y="205.2" width="1.6" height="1.4"/>
<rect x="236.1" y="207.5" width="4.0" height="2.6"/>
<rect x="170.8" y="205.4" width="4.0" height="1.4"/>
<rect x="139.5" y="203.2" width="4.0" height="1.8"/>
<rect x="414.8" y="152.0" width="1.2" height="1.8"/>
<rect x="484.6" y="188.6" width="1.6" height="2.6"/>
<rect x="415.4" y="188.0" width="2.2" height="1.0"/>
<rect x="391.4" y="181.0" width="4.0" height="1.0"/>
<rect x="439.2" y="204.4" width="3.0" height="1.4"/>
<rect x="546.2" y="189.4" width="3.0" height="1.0"/>
<rect x="380.3" y="193.0" width="1.2" height="1.0"/>
<rect x="442.4" y="173.5" width="1.2" height="2.6"/>
<rect x="516.9" y="202.2" width="1.6" height="1.0"/>
<rect x="448.0" y="202.1" width="1.6" height="1.4"/>
<rect x="440.3" y="161.1" width="1.2" height="1.4"/>
<rect x="455.0" y="184.8" width="3.0" height="1.0"/>
<rect x="401.9" y="188.2" width="2.2" height="1.4"/>
<rect x="507.2" y="181.7" width="2.2" height="1.0"/>
<rect x="471.3" y="210.0" width="2.2" height="1.0"/>
<rect x="401.7" y="180.7" width="2.2" height="1.4"/>
<rect x="550.8" y="174.5" width="2.2" height="2.6"/>
<rect x="499.5" y="199.0" width="1.2" height="1.0"/>
<rect x="435.1" y="171.6" width="1.2" height="2.6"/>
<rect x="389.4" y="176.9" width="1.6" height="1.8"/>
<rect x="503.9" y="154.7" width="2.2" height="1.0"/>
<rect x="482.9" y="177.7" width="1.6" height="2.6"/>
<rect x="539.1" y="165.7" width="3.0" height="1.8"/>
<rect x="404.0" y="155.4" width="1.6" height="1.8"/>
<rect x="530.8" y="151.4" width="4.0" height="2.6"/>
<rect x="558.0" y="205.6" width="1.2" height="1.0"/>
<rect x="560.7" y="162.4" width="3.0" height="1.0"/>
<rect x="467.8" y="155.5" width="2.2" height="2.6"/>
<rect x="474.5" y="153.4" width="3.0" height="2.6"/>
<rect x="540.0" y="210.1" width="4.0" height="1.0"/>
<rect x="420.1" y="177.0" width="3.0" height="2.6"/>
<rect x="550.3" y="174.2" width="1.6" height="1.8"/>
<rect x="407.6" y="200.0" width="3.0" height="1.0"/>
<rect x="564.9" y="163.9" width="3.0" height="1.4"/>
<rect x="430.4" y="180.1" width="2.2" height="1.0"/>
<rect x="504.0" y="157.9" width="1.6" height="2.6"/>
<rect x="394.3" y="194.0" width="1.2" height="2.6"/>
<rect x="544.7" y="162.6" width="1.2" height="2.6"/>
<rect x="558.7" y="188.3" width="1.6" height="2.6"/>
<rect x="424.0" y="208.9" width="4.0" height="1.0"/>
<rect x="382.7" y="202.0" width="1.2" height="1.8"/>
<rect x="404.4" y="191.8" width="2.2" height="1.4"/>
<rect x="408.3" y="183.2" width="4.0" height="1.0"/>
<rect x="432.8" y="156.8" width="3.0" height="1.8"/>
<rect x="436.5" y="208.0" width="4.0" height="2.6"/>
<rect x="559.6" y="165.4" width="4.0" height="1.4"/>
<rect x="428.9" y="184.9" width="3.0" height="1.4"/>
<rect x="424.2" y="192.6" width="1.2" height="1.0"/>
<rect x="382.8" y="163.5" width="1.6" height="1.4"/>
<rect x="527.5" y="153.6" width="4.0" height="1.4"/>
<rect x="387.1" y="174.7" width="2.2" height="1.0"/>
<rect x="483.7" y="178.1" width="1.2" height="1.0"/>
<rect x="552.0" y="173.7" width="4.0" height="1.8"/>
<rect x="512.7" y="210.0" width="3.0" height="2.6"/>
<rect x="436.1" y="160.7" width="1.2" height="2.6"/>
<rect x="390.3" y="163.6" width="4.0" height="2.6"/>
<rect x="398.3" y="182.9" width="4.0" height="1.8"/>
<rect x="534.3" y="158.8" width="2.2" height="1.0"/>
<rect x="471.9" y="186.2" width="1.6" height="2.6"/>
<rect x="387.9" y="197.5" width="1.2" height="1.8"/>
<rect x="544.6" y="173.9" width="2.2" height="1.8"/>
<rect x="531.6" y="181.0" width="1.6" height="1.0"/>
<rect x="428.8" y="203.1" width="2.2" height="2.6"/>
<rect x="410.9" y="200.5" width="2.2" height="2.6"/>
<rect x="550.2" y="203.5" width="4.0" height="1.4"/>
<rect x="485.2" y="207.7" width="2.2" height="1.0"/>
<rect x="381.8" y="152.8" width="4.0" height="2.6"/>
<rect x="505.4" y="191.6" width="1.2" height="2.6"/>
<rect x="401.8" y="196.2" width="4.0" height="2.6"/>
<rect x="493.8" y="164.2" width="1.2" height="1.0"/>
<rect x="255.8" y="22.5" width="1.2" height="1.0"/>
<rect x="255.7" y="11.5" width="4.0" height="1.0"/>
<rect x="261.0" y="25.8" width="2.2" height="1.0"/>
<rect x="248.9" y="11.6" width="3.0" height="1.8"/>
<rect x="246.6" y="33.4" width="2.2" height="2.6"/>
<rect x="250.2" y="5.9" width="1.6" height="1.8"/>
<rect x="246.9" y="23.2" width="3.0" height="1.0"/>
<rect x="243.3" y="37.8" width="3.0" height="2.6"/>
<rect x="253.7" y="24.7" width="1.6" height="1.4"/>
<rect x="243.1" y="18.7" width="4.0" height="2.6"/>
<rect x="260.6" y="13.1" width="1.2" height="1.4"/>
<rect x="249.5" y="21.4" width="4.0" height="1.4"/>
<rect x="252.2" y="25.2" width="3.0" height="1.8"/>
<rect x="258.4" y="11.2" width="1.2" height="1.4"/>
<rect x="245.7" y="13.6" width="4.0" height="1.8"/>
<rect x="250.7" y="27.0" width="1.2" height="1.0"/>
<rect x="255.2" y="4.2" width="1.2" height="1.0"/>
<rect x="259.2" y="10.8" width="4.0" height="1.4"/>
<rect x="241.1" y="36.9" width="3.0" height="1.4"/>
<rect x="254.0" y="27.5" width="2.2" height="1.0"/>
<rect x="249.0" y="12.5" width="1.2" height="1.8"/>
<rect x="241.4" y="27.2" width="3.0" height="2.6"/>
<rect x="241.4" y="11.5" width="1.6" height="1.0"/>
<rect x="260.8" y="30.0" width="4.0" height="2.6"/>
<rect x="242.3" y="15.8" width="1.6" height="2.6"/>
<rect x="1.5" y="116.9" width="2.2" height="1.0"/>
<rect x="38.9" y="109.7" width="2.2" height="1.0"/>
<rect x="26.6" y="103.1" width="1.6" height="1.0"/>
<rect x="35.1" y="102.9" width="4.0" height="2.6"/>
<rect x="24.9" y="108.2" width="4.0" height="2.6"/>
<rect x="55.5" y="112.8" width="1.6" height="1.4"/>
<rect x="21.8" y="119.0" width="1.6" height="1.8"/>
<rect x="50.2" y="121.3" width="1.2" height="1.4"/>
<rect x="17.5" y="125.7" width="3.0" height="1.8"/>
<rect x="25.3" y="127.5" width="4.0" height="1.8"/>
<rect x="16.2" y="122.3" width="2.2" height="2.6"/>
<rect x="26.8" y="122.8" width="4.0" height="1.0"/>
<rect x="7.6" y="106.1" width="1.2" height="2.6"/>
<rect x="56.9" y="104.0" width="1.6" height="1.0"/>
<rect x="421.9" y="135.1" width="3.0" height="1.4"/>
<rect x="430.2" y="139.6" width="2.2" height="1.8"/>
<rect x="412.8" y="144.0" width="4.0" height="1.0"/>
<rect x="370.7" y="130.5" width="4.0" height="2.6"/>
<rect x="413.9" y="139.8" width="4.0" height="1.8"/>
<rect x="410.5" y="131.2" width="2.2" height="1.4"/>
<rect x="402.4" y="135.9" width="2.2" height="1.4"/>
<rect x="379.0" y="133.9" width="1.2" height="1.0"/>
<rect x="398.7" y="133.2" width="3.0" height="1.8"/>
<rect x="392.1" y="146.8" width="3.0" height="1.8"/>
<rect x="441.5" y="140.5" width="2.2" height="1.0"/>
<rect x="365.9" y="139.9" width="1.2" height="2.6"/>
<rect x="427.2" y="146.7" width="1.2" height="1.4"/>
<rect x="403.5" y="139.6" width="1.2" height="1.4"/>
<rect x="366.9" y="133.4" width="4.0" height="1.4"/>
<rect x="416.6" y="138.0" width="1.2" height="2.6"/>
<rect x="391.8" y="147.3" width="2.2" height="1.0"/>
<rect x="370.5" y="134.7" width="1.2" height="1.8"/>
<rect x="210.9" y="17.8" width="1.2" height="1.8"/>
<rect x="216.8" y="25.6" width="3.0" height="1.0"/>
<rect x="232.8" y="25.0" width="1.2" height="1.4"/>
<rect x="210.4" y="22.8" width="1.6" height="1.4"/>
<rect x="195.1" y="22.7" width="3.0" height="2.6"/>
<rect x="212.9" y="24.7" width="1.2" height="2.6"/>
<rect x="230.1" y="27.7" width="4.0" height="1.4"/>
<rect x="191.0" y="36.3" width="4.0" height="1.4"/>
<rect x="236.5" y="30.3" width="1.6" height="1.0"/>
<rect x="215.6" y="36.4" width="1.6" height="1.4"/>
<rect x="209.0" y="9.1" width="1.2" height="1.8"/>
<rect x="199.0" y="35.9" width="3.0" height="1.4"/>
<rect x="227.0" y="11.7" width="3.0" height="1.4"/>
<rect x="200.4" y="20.9" width="3.0" height="1.4"/>
<rect x="209.6" y="8.8" width="3.0" height="1.4"/>
<rect x="223.3" y="35.5" width="2.2" height="1.0"/>
<rect x="231.8" y="37.3" width="3.0" height="2.6"/>
<rect x="225.2" y="14.5" width="4.0" height="1.8"/>
<rect x="224.4" y="35.7" width="1.2" height="1.4"/>
<rect x="229.4" y="39.0" width="1.6" height="1.8"/>
<rect x="220.4" y="30.7" width="3.0" height="1.8"/>
<rect x="229.1" y="28.1" width="1.6" height="1.0"/>
<rect x="216.1" y="30.6" width="1.2" height="1.0"/>
<rect x="223.6" y="22.9" width="2.2" height="1.0"/>
<rect x="213.4" y="19.8" width="1.2" height="1.8"/>
<rect x="144.2" y="24.3" width="4.0" height="2.6"/>
<rect x="147.3" y="19.9" width="4.0" height="2.6"/>
<rect x="130.1" y="22.8" width="3.0" height="1.0"/>
<rect x="131.5" y="18.8" width="4.0" height="1.0"/>
</g>
<g fill="none" stroke-linejoin="miter" stroke-linecap="butt">
<g stroke="#0a9852" stroke-width="4.3">
<path d="M111.2 8.3 L148 7.2 L148 73 L129.6 73"/>
<path d="M154.4 62.3 L190 60.5 L239 56 L243.4 62.3 L317 61 L340 73.7 L354 75 L380 87.7 L420.5 107 L469 124.5"/>
<path d="M467.8 142 L472.6 107 L487.8 40.3 L552 43.6"/>
</g>
<g stroke="#c8102e" stroke-width="4.8">
<path d="M43.2 107 L81.3 75.6 L160 76.3 L167.8 83.9 L170.3 112"/>
<path d="M89 124.2 L170.3 116.5 L232 97.3"/>
<path d="M151.9 78 L151.9 27.3 L217.3 27.3 L217.3 10.2 L238.3 10.2"/>
<path d="M153.8 55.9 L190 53.4 L239 51"/>
<path d="M232 114.6 L247 115.3 L253.5 121 L291.7 107.6 L349 107.6 L376 122.3 L420.5 134.3 L442 150.2 L503 185.2"/>
<path d="M463 150 L460 159" stroke-width="2.6"/>
</g></g>
<rect x="125" y="79.5" width="8" height="8.4" fill="#f2b61e"/>
<rect x="459.2" y="141.3" width="8.3" height="9.5" fill="#f2b61e" stroke="#b98a10" stroke-width="0.4"/>
<rect x="549.5" y="39.4" width="8.3" height="9.6" fill="#0a9852"/>
<text x="62" y="12.5" font-size="7.5" fill="#666" style="font-family:'Liberation Serif',serif;font-style:italic;letter-spacing:2.4px" font-weight="400">Werd</text>
<text x="156" y="54.5" font-size="7.5" fill="#5a4a44" style="font-family:'Liberation Serif',serif;font-style:italic;letter-spacing:0.5px" font-weight="400">Brand</text>
<text x="75" y="108.5" font-size="7" fill="#7a5a50" style="font-family:'Liberation Serif',serif;font-style:italic;letter-spacing:0.3px" font-weight="400">Reitmen</text>
<text x="-6" y="104" font-size="8.5" fill="#555" style="font-family:'Liberation Serif',serif;font-style:italic;letter-spacing:0.4px" font-weight="400">unwerd</text>
<text x="256" y="9.4" font-size="10.5" fill="#2a2a2a" style="font-family:'Liberation Serif',serif;font-style:italic;letter-spacing:0.9px" font-weight="700">Lacheren</text>
<text x="289" y="27.6" font-size="6.5" fill="#666" style="font-family:'Liberation Serif',serif;font-style:italic;letter-spacing:0.3px" font-weight="400">Brachweg</text>
<text x="339" y="7" font-size="9" fill="#2a6cc0" style="font-family:'Liberation Serif',serif;font-style:italic;letter-spacing:0.5px" font-weight="400" transform="rotate(12 339 7)">at</text>
<text x="449" y="52.5" font-size="6" fill="#667" style="font-family:'Liberation Serif',serif;font-style:italic;letter-spacing:0.3px" font-weight="400">Gaswerk</text>
<text x="365" y="83" font-size="5.5" fill="#7a5a50" style="font-family:'Liberation Serif',serif;font-style:italic;letter-spacing:0.3px" font-weight="400">Ifang</text>
<text x="460" y="118.5" font-size="5.5" fill="#666" style="font-family:'Liberation Serif',serif;font-style:italic;letter-spacing:0.3px" font-weight="400">Ischhof</text>
<text x="333" y="141.5" font-size="5" fill="#666" style="font-family:'Liberation Serif',serif;font-style:italic;letter-spacing:0.3px" font-weight="400">Bad</text>
<text x="56" y="208.5" font-size="5.8" fill="#777" style="font-family:'Liberation Serif',serif;font-style:italic;letter-spacing:0.5px" font-weight="400">Limmattal</text>
<text x="554" y="76" font-size="6" fill="#555" style="font-family:'Liberation Serif',serif;font-style:italic;letter-spacing:0.3px" font-weight="400">Al</text>
<text x="114" y="38.2" font-size="4.4" fill="#444" style="font-family:'Liberation Serif',serif;font-style:italic;letter-spacing:0px" font-weight="400">391</text>
<text x="221" y="48.5" font-size="4.4" fill="#444" style="font-family:'Liberation Serif',serif;font-style:italic;letter-spacing:0px" font-weight="400">392</text>
<text x="223" y="84.5" font-size="4.4" fill="#444" style="font-family:'Liberation Serif',serif;font-style:italic;letter-spacing:0px" font-weight="400">392</text>
<text x="93" y="132" font-size="4.4" fill="#444" style="font-family:'Liberation Serif',serif;font-style:italic;letter-spacing:0px" font-weight="400">391</text>
<text x="18" y="149" font-size="4.4" fill="#444" style="font-family:'Liberation Serif',serif;font-style:italic;letter-spacing:0px" font-weight="400">393</text>
<text x="470" y="24.5" font-size="4.4" fill="#444" style="font-family:'Liberation Serif',serif;font-style:italic;letter-spacing:0px" font-weight="400">399</text>
<text x="413" y="56" font-size="4.4" fill="#444" style="font-family:'Liberation Serif',serif;font-style:italic;letter-spacing:0px" font-weight="400">394</text>
<text x="480" y="90" font-size="4.4" fill="#444" style="font-family:'Liberation Serif',serif;font-style:italic;letter-spacing:0px" font-weight="400">395</text>
<text x="360" y="101" font-size="4.4" fill="#444" style="font-family:'Liberation Serif',serif;font-style:italic;letter-spacing:0px" font-weight="400">395</text>
<text x="438" y="209" font-size="4.4" fill="#444" style="font-family:'Liberation Serif',serif;font-style:italic;letter-spacing:0px" font-weight="400">450.2</text>
<text x="258" y="221" font-size="17" fill="#555" style="font-family:'Liberation Serif',serif;letter-spacing:3px">SCHLIEREN</text>
<rect x="57.2" y="152" width="292.8" height="46.4" fill="#ffffff"/>
<rect x="61" y="158.4" width="14" height="4.6" fill="#c8102e"/>
<rect x="61" y="172.4" width="14" height="4.6" fill="#0a9852"/>
<rect x="61" y="184.4" width="14" height="9.6" fill="#e791b9"/>
<rect x="196.3" y="155" width="8.8" height="9.6" fill="#f2b61e" stroke="#b98a10" stroke-width="0.4"/>
<rect x="196.3" y="169.2" width="8.8" height="9.8" fill="#0a9852"/>
<rect x="191.2" y="185" width="14" height="9.3" fill="#ec957e"/>
</g>
<text x="1270.0" y="765.7" font-size="6.8" fill="#1d1d1b" textLength="105.0" lengthAdjust="spacingAndGlyphs" stroke="#1d1d1b" stroke-width="0.18">Energy network transmission line</text>
<text x="1270.0" y="779.7" font-size="6.8" fill="#1d1d1b" textLength="105.0" lengthAdjust="spacingAndGlyphs" stroke="#1d1d1b" stroke-width="0.18">wastewater purification plant line</text>
<text x="1270.0" y="793.7" font-size="6.8" fill="#1d1d1b" textLength="89.7" lengthAdjust="spacingAndGlyphs" stroke="#1d1d1b" stroke-width="0.18">Zürcherstrasse sub-network</text>
<text x="1401.0" y="765.2" font-size="6.8" fill="#1d1d1b" textLength="46.0" lengthAdjust="spacingAndGlyphs" stroke="#1d1d1b" stroke-width="0.18">energy centres</text>
<text x="1401.0" y="779.2" font-size="6.8" fill="#1d1d1b" textLength="135.1" lengthAdjust="spacingAndGlyphs" stroke="#1d1d1b" stroke-width="0.18">wastewater purification plant pump station</text>
<text x="1401.0" y="793.7" font-size="6.8" fill="#1d1d1b" textLength="56.9" lengthAdjust="spacingAndGlyphs" stroke="#1d1d1b" stroke-width="0.18">Nord sub-network</text></g>
<g id="d1"><rect x="396" y="421.3" width="399" height="159.4" fill="#e1e1e0"/>
<g fill="#0f5ca5">
<rect x="417.4" y="448.5" width="195.5" height="6.5"/>
<rect x="417.4" y="556" width="195.5" height="6.5"/>
<rect x="606.3" y="448.5" width="6.6" height="114"/>
<rect x="428.9" y="454" width="3.1" height="103"/>
<rect x="491.3" y="454" width="3.1" height="103"/>
<rect x="554.0" y="454" width="3.1" height="103"/>
</g>
<g stroke="#0f5ca5" stroke-width="2.6" fill="none">
<path d="M408 460.0 L415.6 443.7"/><path d="M413.3 460.0 L421 443.7"/>
<path d="M408 568.0999999999999 L415.6 551.8"/><path d="M413.3 568.0999999999999 L421 551.8"/>
</g>
<g fill="#dc5a2a">
<rect x="637.3" y="448.5" width="140.6" height="6.5"/>
<rect x="637.3" y="556" width="140.6" height="6.5"/>
<rect x="637.3" y="448.5" width="6.4" height="114"/>
<rect x="697.8" y="454" width="3.0" height="103"/>
<rect x="759.8" y="454" width="3.0" height="103"/>
</g>
<g stroke="#dc5a2a" stroke-width="2.6" fill="none">
<path d="M772.2 460.59999999999997 L781 444.2"/><path d="M777.6 460.59999999999997 L786.4 444.2"/>
<path d="M772.2 568.1999999999999 L781 551.8"/><path d="M777.6 568.1999999999999 L786.4 551.8"/>
</g>
<rect x="407" y="476.1" width="46.5" height="58.8" fill="#0f5ca5"/>
<rect x="469.2" y="476.1" width="46.5" height="58.8" fill="#466727"/>
<rect x="531.4" y="476.1" width="46.6" height="58.8" fill="#6f3519"/>
<rect x="675.3" y="476.1" width="46.8" height="58.8" fill="#0e2648"/>
<rect x="737.9" y="476.1" width="46.9" height="58.8" fill="#dc5a2a"/>
<rect x="593.5" y="472.5" width="66.4" height="66.6" fill="#fff" stroke="#3a3a3a" stroke-width="0.7"/>
<rect x="710.3" y="431.5" width="40.8" height="40.2" fill="#fff" stroke="#3a3a3a" stroke-width="0.7"/>
<text x="570.9" y="445.5" font-size="7" fill="#111111" textLength="24.3" lengthAdjust="spacingAndGlyphs" stroke="#111111" stroke-width="0.18">Cooling</text>
<text x="662.3" y="445.5" font-size="7" fill="#111111" textLength="15.0" lengthAdjust="spacingAndGlyphs" stroke="#111111" stroke-width="0.18">Heat</text>
<text x="417.4" y="503.0" font-size="7" fill="#ffffff" textLength="25.5" lengthAdjust="spacingAndGlyphs" stroke="#ffffff" stroke-width="0.18">Cooling</text>
<text x="415.2" y="510.8" font-size="7" fill="#ffffff" textLength="30.0" lengthAdjust="spacingAndGlyphs" stroke="#ffffff" stroke-width="0.18">customer</text>
<text x="474.1" y="488.6" font-size="7" fill="#ffffff" textLength="35.4" lengthAdjust="spacingAndGlyphs" stroke="#ffffff" stroke-width="0.18">Waste heat</text>
<text x="474.1" y="496.6" font-size="7" fill="#ffffff" textLength="35.5" lengthAdjust="spacingAndGlyphs" stroke="#ffffff" stroke-width="0.18">from Werd-</text>
<text x="471.8" y="504.5" font-size="7" fill="#ffffff" textLength="40.0" lengthAdjust="spacingAndGlyphs" stroke="#ffffff" stroke-width="0.18">hölzli waste-</text>
<text x="482.6" y="512.5" font-size="7" fill="#ffffff" textLength="18.5" lengthAdjust="spacingAndGlyphs" stroke="#ffffff" stroke-width="0.18">water</text>
<text x="473.8" y="520.4" font-size="7" fill="#ffffff" textLength="36.0" lengthAdjust="spacingAndGlyphs" stroke="#ffffff" stroke-width="0.18">purification</text>
<text x="483.6" y="528.4" font-size="7" fill="#ffffff" textLength="16.5" lengthAdjust="spacingAndGlyphs" stroke="#ffffff" stroke-width="0.18">plant</text>
<text x="536.9" y="499.4" font-size="7" fill="#ffffff" textLength="35.4" lengthAdjust="spacingAndGlyphs" stroke="#ffffff" stroke-width="0.18">Waste heat</text>
<text x="532.8" y="507.4" font-size="7" fill="#ffffff" textLength="43.6" lengthAdjust="spacingAndGlyphs" stroke="#ffffff" stroke-width="0.18">from industry/</text>
<text x="546.1" y="515.5" font-size="7" fill="#ffffff" textLength="17.0" lengthAdjust="spacingAndGlyphs" stroke="#ffffff" stroke-width="0.18">trade</text>
<text x="604.5" y="504.6" font-size="7" fill="#111111" textLength="44.5" lengthAdjust="spacingAndGlyphs" stroke="#111111" stroke-width="0.18">Heating units/</text>
<text x="597.1" y="512.6" font-size="7" fill="#111111" textLength="59.3" lengthAdjust="spacingAndGlyphs" stroke="#111111" stroke-width="0.18">refrigeration plants</text>
<text x="717.1" y="451.7" font-size="7" fill="#111111" textLength="27.0" lengthAdjust="spacingAndGlyphs" stroke="#111111" stroke-width="0.18">Gas/Oil-</text>
<text x="712.2" y="459.7" font-size="7" fill="#111111" textLength="36.7" lengthAdjust="spacingAndGlyphs" stroke="#111111" stroke-width="0.18">fired boilers</text>
<text x="682.8" y="484.3" font-size="7" fill="#ffffff" textLength="32.0" lengthAdjust="spacingAndGlyphs" stroke="#ffffff" stroke-width="0.18">Recooling</text>
<text x="680.5" y="492.3" font-size="7" fill="#ffffff" textLength="36.5" lengthAdjust="spacingAndGlyphs" stroke="#ffffff" stroke-width="0.18">with waste-</text>
<text x="681.5" y="500.3" font-size="7" fill="#ffffff" textLength="34.5" lengthAdjust="spacingAndGlyphs" stroke="#ffffff" stroke-width="0.18">water from</text>
<text x="682.3" y="508.4" font-size="7" fill="#ffffff" textLength="33.0" lengthAdjust="spacingAndGlyphs" stroke="#ffffff" stroke-width="0.18">Werdhölzli</text>
<text x="680.5" y="516.4" font-size="7" fill="#ffffff" textLength="36.5" lengthAdjust="spacingAndGlyphs" stroke="#ffffff" stroke-width="0.18">wastewater</text>
<text x="680.8" y="524.4" font-size="7" fill="#ffffff" textLength="36.0" lengthAdjust="spacingAndGlyphs" stroke="#ffffff" stroke-width="0.18">purification</text>
<text x="690.5" y="532.4" font-size="7" fill="#ffffff" textLength="16.5" lengthAdjust="spacingAndGlyphs" stroke="#ffffff" stroke-width="0.18">plant</text>
<text x="748.8" y="503.0" font-size="7" fill="#ffffff" textLength="25.0" lengthAdjust="spacingAndGlyphs" stroke="#ffffff" stroke-width="0.18">Heating</text>
<text x="746.3" y="510.8" font-size="7" fill="#ffffff" textLength="30.0" lengthAdjust="spacingAndGlyphs" stroke="#ffffff" stroke-width="0.18">customer</text></g>
<g id="d2"><rect x="395.3" y="619.5" width="399.6" height="195.2" fill="#d3d3d2"/>
<path d="M403.4 647.9 L491 647.9 L491 641.8 L499.6 653.8 L491 665.8 L491 659.9 L403.4 659.9 Z" fill="#f7c21c"/>
<path d="M403.4 707.2 L489 707.2 L489 701.0 L499.8 718.15 L489 735.3 L489 729.2 L403.4 729.2 Z" fill="#466727"/>
<path d="M403.4 774.8 L491 774.8 L491 768.9 L499.6 780.8 L491 792.7 L491 786.8 L403.4 786.8 Z" fill="#fddc72"/>
<path d="M538.8 649.8 L572.5 649.8 Q577 649.8 577 654.3 L577 673.4 L632 673.4 L632 681.9 L573.5 681.9 Q569 681.9 569 677.4 L569 658.3 L538.8 658.3 Z" fill="#dc5a2a"/>
<path d="M538.8 682.9 L631.8 682.9 L631.8 673.4 L763.3 673.4 L763.3 667.4 L786.1 700.7 L763.3 733.8 L763.3 727.7 L631.8 727.7 L631.8 710.7 L538.8 710.7 Z" fill="#dc5a2a"/>
<path d="M538.8 731.4 L562 731.4 Q566 731.4 566 727.4 L566 719 Q566 713.1 572 713.1 L631.8 713.1 L631.8 728.2 L582 728.2 Q577.5 728.2 577.5 733 L577.5 741.5 Q577.5 747.7 571 747.7 L538.8 747.7 Z" fill="#6f3519"/>
<path d="M538.8 753.3 L702.4 753.3 L702.4 747.7 L708.6 757.45 L702.4 767.2 L702.4 761.8 L538.8 761.8 Z" fill="#0e2648"/>
<path d="M538.8 770.3 L774.2 770.3 L774.2 764.7 L786.1 780.9000000000001 L774.2 797.1 L774.2 792.3 L538.8 792.3 Z" fill="#0f5ca5"/>
<path d="M679 727 L679 737.2 L704 737.2" fill="none" stroke="#dc5a2a" stroke-width="1.8"/>
<path d="M703 732.6 L709.2 737.2 L703 741.8 Z" fill="#dc5a2a"/>
<path d="M679 792 L679 801.3 L704 801.3" fill="none" stroke="#0f5ca5" stroke-width="1.8"/>
<path d="M703 796.7 L709.2 801.3 L703 805.9 Z" fill="#0f5ca5"/>
<rect x="500.3" y="636.9" width="38.4" height="33.6" fill="#fff" stroke="#3a3a3a" stroke-width="0.7"/>
<rect x="500.3" y="678.8" width="38.4" height="118.3" fill="#fff" stroke="#3a3a3a" stroke-width="0.7"/>
<text x="406.8" y="655.9" font-size="6.8" fill="#111111" textLength="81.7" lengthAdjust="spacingAndGlyphs" stroke="#111111" stroke-width="0.18">9100 MWh natural gas/oil</text>
<text x="406.8" y="715.2" font-size="6.8" fill="#fff" textLength="78.0" lengthAdjust="spacingAndGlyphs" stroke="#fff" stroke-width="0.18">22 400 MWh wastewater</text>
<text x="406.8" y="723.3" font-size="6.8" fill="#fff" textLength="53.4" lengthAdjust="spacingAndGlyphs" stroke="#fff" stroke-width="0.18">purification plant</text>
<text x="406.8" y="783.0" font-size="6.8" fill="#111111" textLength="67.0" lengthAdjust="spacingAndGlyphs" stroke="#111111" stroke-width="0.18">9100 MWh electricity</text>
<text x="504.4" y="647.6" font-size="6.8" fill="#111111" stroke="#111111" stroke-width="0.18">Gas/Oil-</text>
<text x="504.4" y="655.6" font-size="6.8" fill="#111111" stroke="#111111" stroke-width="0.18">fired</text>
<text x="504.4" y="663.6" font-size="6.8" fill="#111111" stroke="#111111" stroke-width="0.18">boilers</text>
<text x="504.4" y="728.5" font-size="6.8" fill="#111111" stroke="#111111" stroke-width="0.18">Heating</text>
<text x="504.4" y="736.5" font-size="6.8" fill="#111111" stroke="#111111" stroke-width="0.18">units/refri-</text>
<text x="504.4" y="744.5" font-size="6.8" fill="#111111" stroke="#111111" stroke-width="0.18">geration</text>
<text x="504.4" y="752.5" font-size="6.8" fill="#111111" stroke="#111111" stroke-width="0.18">plants</text>
<text x="585.5" y="656.4" font-size="6.8" fill="#111111" textLength="34.5" lengthAdjust="spacingAndGlyphs" stroke="#111111" stroke-width="0.18">8200 MWh</text>
<text x="545.8" y="700.7" font-size="6.8" fill="#111111" textLength="39.2" lengthAdjust="spacingAndGlyphs" stroke="#111111" stroke-width="0.18">29 200 MWh</text>
<text x="602.6" y="703.1" font-size="6.8" fill="#111111" textLength="38.9" lengthAdjust="spacingAndGlyphs" stroke="#111111" stroke-width="0.18">54 200 MWh</text>
<text x="663.4" y="703.1" font-size="6.8" fill="#111111" textLength="55.2" lengthAdjust="spacingAndGlyphs" stroke="#111111" stroke-width="0.18">52 000 MWh heat</text>
<text x="579.9" y="738.4" font-size="6.8" fill="#111111" textLength="38.1" lengthAdjust="spacingAndGlyphs" stroke="#111111" stroke-width="0.18">16 800 MWh</text>
<text x="579.2" y="746.5" font-size="6.8" fill="#111111" textLength="52.0" lengthAdjust="spacingAndGlyphs" stroke="#111111" stroke-width="0.18">waste heat used</text>
<text x="711.9" y="736.3" font-size="6.8" fill="#111111" textLength="34.1" lengthAdjust="spacingAndGlyphs" stroke="#111111" stroke-width="0.18">2200 MWh</text>
<text x="711.9" y="744.2" font-size="6.8" fill="#111111" textLength="48.6" lengthAdjust="spacingAndGlyphs" stroke="#111111" stroke-width="0.18">loss to network</text>
<text x="545.8" y="759.9" font-size="6.8" fill="#fff" textLength="96.5" lengthAdjust="spacingAndGlyphs" stroke="#fff" stroke-width="0.18">8000 MWh waste heat unused</text>
<text x="545.8" y="783.7" font-size="6.8" fill="#fff" textLength="39.2" lengthAdjust="spacingAndGlyphs" stroke="#fff" stroke-width="0.18">22 500 MWh</text>
<text x="663.4" y="783.7" font-size="6.8" fill="#fff" textLength="64.2" lengthAdjust="spacingAndGlyphs" stroke="#fff" stroke-width="0.18">21 800 MWh cooling</text>
<text x="711.9" y="800.5" font-size="6.8" fill="#111111" textLength="30.6" lengthAdjust="spacingAndGlyphs" stroke="#111111" stroke-width="0.18">700 MWh</text>
<text x="711.9" y="808.6" font-size="6.8" fill="#111111" textLength="48.6" lengthAdjust="spacingAndGlyphs" stroke="#111111" stroke-width="0.18">loss to network</text></g>
<g id="d3"><defs><linearGradient id="gy" x1="0" x2="1" y1="0" y2="0"><stop offset="0" stop-color="#f9da66"/><stop offset="1" stop-color="#fbe38a"/></linearGradient></defs>
<rect x="807" y="619.2" width="357" height="195.7" fill="#e8e7e6"/>
<path d="M813.7 647.4 L885.5 647.4 L885.5 640.4 L909.7 676.05 L885.5 711.7 L885.5 704.8 L813.7 704.8 Z" fill="url(#gy)"/>
<path d="M813.7 756.4 L901 756.4 L901 751.6 L909.7 759.95 L901 768.3 L901 763.8 L813.7 763.8 Z" fill="#fdf0b8"/>
<path d="M948.9 649.9 L1138.4 649.9 L1138.4 643.2 L1161 676.1 L1138.4 709 L1138.4 702.3 L948.9 702.3 Z" fill="#ec9f74"/>
<path d="M948.9 725.9 L1146.6 725.9 L1146.6 719.7 L1161 740.3 L1146.6 760.9 L1146.6 754.6 L948.9 754.6 Z" fill="#ec9f74"/>
<path d="M948.9 773.3 L1148.3 773.3 L1148.3 766.6 L1161 784.05 L1148.3 801.5 L1148.3 794.5 L948.9 794.5 Z" fill="#6696c9"/>
<rect x="910.6" y="638.3" width="38.3" height="75.6" fill="#fff" stroke="#3a3a3a" stroke-width="0.7"/>
<rect x="910.6" y="722.3" width="38.3" height="76.4" fill="#fff" stroke="#3a3a3a" stroke-width="0.7"/>
<text x="817.0" y="678.6" font-size="6.8" fill="#111111" textLength="86.2" lengthAdjust="spacingAndGlyphs" stroke="#111111" stroke-width="0.18">57 800 MWh natural gas/oil</text>
<text x="817.0" y="762.1" font-size="6.8" fill="#111111" textLength="67.0" lengthAdjust="spacingAndGlyphs" stroke="#111111" stroke-width="0.18">7000 MWh electricity</text>
<text x="913.5" y="671.1" font-size="6.8" fill="#111111" stroke="#111111" stroke-width="0.18">Gas/Oil-</text>
<text x="913.5" y="679.1" font-size="6.8" fill="#111111" stroke="#111111" stroke-width="0.18">fired</text>
<text x="913.5" y="687.1" font-size="6.8" fill="#111111" stroke="#111111" stroke-width="0.18">boilers</text>
<text x="913.5" y="755.9" font-size="6.8" fill="#111111" stroke="#111111" stroke-width="0.18">Refrige-</text>
<text x="913.5" y="763.8" font-size="6.8" fill="#111111" stroke="#111111" stroke-width="0.18">ration</text>
<text x="913.5" y="771.7" font-size="6.8" fill="#111111" stroke="#111111" stroke-width="0.18">machines</text>
<text x="995.2" y="678.6" font-size="6.8" fill="#111111" textLength="55.2" lengthAdjust="spacingAndGlyphs" stroke="#111111" stroke-width="0.18">52 000 MWh heat</text>
<text x="995.2" y="742.7" font-size="6.8" fill="#111111" textLength="101.8" lengthAdjust="spacingAndGlyphs" stroke="#111111" stroke-width="0.18">28 800 MWh waste heat unused</text>
<text x="995.2" y="786.5" font-size="6.8" fill="#fff" textLength="64.6" lengthAdjust="spacingAndGlyphs" stroke="#fff" stroke-width="0.18">21 800 MWh cooling</text></g>
<g id="chart"><rect x="1400.8" y="421.1" width="355.5" height="147.5" fill="#dcdcdb"/>
<path d="M1431.3 465.9 L1433.4 472.8 L1436.6 477.9 L1441.1 481.4 L1448.9 485.2 L1457.7 488.7 L1466.4 491.7 L1477.0 496.0 L1487.5 499.8 L1498.1 502.8 L1506.9 505.0 L1515.6 506.7 L1431.3 506.7 Z" fill="#f8c41d"/>
<path d="M1431.3 506.7 L1515.6 506.7 L1536.7 513.6 L1571.9 522.1 L1592.9 528.1 L1621.1 536.7 L1622.8 537.2 L1431.3 537.2 Z" fill="#3f5f27"/>
<path d="M1431.3 537.2 L1622.8 537.2 L1650.9 543.0 L1747.7 543.0 L1747.7 546.6 L1431.3 546.6 Z" fill="#0f5ca5"/>
<g stroke="#1f1f1f" stroke-width="0.85" fill="none">
<path d="M1429.3 546.60 L1747.7 546.60"/>
<path d="M1429.3 525.14 L1747.7 525.14"/>
<path d="M1429.3 503.68 L1747.7 503.68"/>
<path d="M1429.3 482.22 L1747.7 482.22"/>
<path d="M1429.3 460.76 L1747.7 460.76"/>
<path d="M1429.3 439.30 L1747.7 439.30"/>
<path d="M1431.3 439.30 L1431.3 548.6"/>
<path d="M1747.7 439.30 L1747.7 546.6"/>
<path d="M1466.44 546.6 L1466.44 548.6"/>
<path d="M1501.58 546.6 L1501.58 548.6"/>
<path d="M1536.72 546.6 L1536.72 548.6"/>
<path d="M1571.86 546.6 L1571.86 548.6"/>
<path d="M1607.00 546.6 L1607.00 548.6"/>
<path d="M1642.14 546.6 L1642.14 548.6"/>
<path d="M1677.28 546.6 L1677.28 548.6"/>
<path d="M1712.42 546.6 L1712.42 548.6"/>
<path d="M1494.8 471.3 L1464 497.6"/>
<path d="M1570.7 493.6 L1540.4 519.8"/>
<path d="M1655.8 517.1 L1625.4 542.7"/>
</g>
<text x="1424.3" y="549.1" font-size="6.6" text-anchor="end" fill="#111111">0</text>
<text x="1424.3" y="527.6" font-size="6.6" text-anchor="end" fill="#111111">5000</text>
<text x="1424.3" y="506.2" font-size="6.6" text-anchor="end" fill="#111111">10000</text>
<text x="1424.3" y="484.7" font-size="6.6" text-anchor="end" fill="#111111">15000</text>
<text x="1424.3" y="463.3" font-size="6.6" text-anchor="end" fill="#111111">20000</text>
<text x="1424.3" y="441.8" font-size="6.6" text-anchor="end" fill="#111111">25000</text>
<text x="1431.3" y="558.8" font-size="6.6" text-anchor="middle" fill="#111111">0</text>
<text x="1466.4" y="558.8" font-size="6.6" text-anchor="middle" fill="#111111">1000</text>
<text x="1501.6" y="558.8" font-size="6.6" text-anchor="middle" fill="#111111">2000</text>
<text x="1536.7" y="558.8" font-size="6.6" text-anchor="middle" fill="#111111">3000</text>
<text x="1571.9" y="558.8" font-size="6.6" text-anchor="middle" fill="#111111">4000</text>
<text x="1607.0" y="558.8" font-size="6.6" text-anchor="middle" fill="#111111">5000</text>
<text x="1642.1" y="558.8" font-size="6.6" text-anchor="middle" fill="#111111">6000</text>
<text x="1677.3" y="558.8" font-size="6.6" text-anchor="middle" fill="#111111">7000</text>
<text x="1712.4" y="558.8" font-size="6.6" text-anchor="middle" fill="#111111">8000</text>
<text x="1497.6" y="471.7" font-size="6.6" fill="#111111" textLength="61.4" lengthAdjust="spacingAndGlyphs" stroke="#111111" stroke-width="0.18">Gas/Oil-fired boilers</text>
<text x="1573.7" y="492.5" font-size="6.6" fill="#111111" textLength="33.6" lengthAdjust="spacingAndGlyphs" stroke="#111111" stroke-width="0.18">Heat pump</text>
<text x="1650.5" y="514.5" font-size="6.6" fill="#111111" textLength="93.5" lengthAdjust="spacingAndGlyphs" stroke="#111111" stroke-width="0.18">Waste heat refrigeration plants</text>
<text x="1437.8" y="499.8" font-size="6.6" fill="#111111" textLength="13.2" lengthAdjust="spacingAndGlyphs" stroke="#111111" stroke-width="0.18">15 %</text>
<text x="1489.7" y="519.4" font-size="6.6" fill="#fff" textLength="14.3" lengthAdjust="spacingAndGlyphs" stroke="#fff" stroke-width="0.18">55 %</text>
<text x="1551.7" y="544.4" font-size="6.6" fill="#fff" textLength="14.3" lengthAdjust="spacingAndGlyphs" stroke="#fff" stroke-width="0.18">30 %</text></g>
<g id="txt">
<text x="119.0" y="42.5" font-size="19" font-weight="700" fill="#0a4288" textLength="223.0" lengthAdjust="spacingAndGlyphs" stroke="#0a4288" stroke-width="0.75" stroke-linejoin="round">The Schlieren energy network.</text>
<text x="119.0" y="62.6" font-size="19" font-weight="700" fill="#de6a35" textLength="254.0" lengthAdjust="spacingAndGlyphs" stroke="#de6a35" stroke-width="0.75" stroke-linejoin="round">Waste heat as a source of energy.</text>
<text x="1310.0" y="42.5" font-size="19" font-weight="700" fill="#0a4288" textLength="416.4" lengthAdjust="spacingAndGlyphs" stroke="#0a4288" stroke-width="0.75" stroke-linejoin="round">Use of waste heat, energy from wastewater, and central</text>
<text x="1310.0" y="62.8" font-size="19" font-weight="700" fill="#0a4288" textLength="131.5" lengthAdjust="spacingAndGlyphs" stroke="#0a4288" stroke-width="0.75" stroke-linejoin="round">power production.</text>
<text x="1448.4" y="62.8" font-size="19" font-weight="700" fill="#de6a35" textLength="192.6" lengthAdjust="spacingAndGlyphs" stroke="#de6a35" stroke-width="0.75" stroke-linejoin="round">All just around the corner.</text>
<text x="119.0" y="177.9" font-size="8.9" font-weight="700" fill="#0b4a94" textLength="253.2" lengthAdjust="spacingAndGlyphs" stroke="#0b4a94" stroke-width="0.3">In cooperation with the city of Schlieren and the Swiss</text>
<text x="119.0" y="188.9" font-size="8.9" font-weight="700" fill="#0b4a94" textLength="252.7" lengthAdjust="spacingAndGlyphs" stroke="#0b4a94" stroke-width="0.3">post, ewz is currently creating a major energy network</text>
<text x="119.0" y="199.9" font-size="8.9" font-weight="700" fill="#0b4a94" textLength="238.5" lengthAdjust="spacingAndGlyphs" stroke="#0b4a94" stroke-width="0.3">to take advantage of locally available, environment-</text>
<text x="119.0" y="210.8" font-size="8.9" font-weight="700" fill="#0b4a94" textLength="258.3" lengthAdjust="spacingAndGlyphs" stroke="#0b4a94" stroke-width="0.3">friendly waste heat from the cooling process, as well as</text>
<text x="119.0" y="221.8" font-size="8.9" font-weight="700" fill="#0b4a94" textLength="252.2" lengthAdjust="spacingAndGlyphs" stroke="#0b4a94" stroke-width="0.3">energy from treated wastewater. The plan is part of an</text>
<text x="119.0" y="232.8" font-size="8.9" font-weight="700" fill="#0b4a94" textLength="146.4" lengthAdjust="spacingAndGlyphs" stroke="#0b4a94" stroke-width="0.3">ewz energy contracting project.</text>
<text x="395.4" y="177.9" font-size="9.0" font-weight="700" fill="#161616" textLength="135.5" lengthAdjust="spacingAndGlyphs" stroke="#161616" stroke-width="0.3">Exploiting synergies between</text>
<text x="395.4" y="188.9" font-size="9.0" font-weight="700" fill="#161616" textLength="93.9" lengthAdjust="spacingAndGlyphs" stroke="#161616" stroke-width="0.3">heating and cooling.</text>
<text x="395.4" y="199.9" font-size="9.0" fill="#161616" textLength="158.8" lengthAdjust="spacingAndGlyphs" stroke="#161616" stroke-width="0.18">Central heating and cooling is typically</text>
<text x="395.4" y="210.8" font-size="9.0" fill="#161616" textLength="171.5" lengthAdjust="spacingAndGlyphs" stroke="#161616" stroke-width="0.18">cost-effective in high energy-density situa-</text>
<text x="395.4" y="221.8" font-size="9.0" fill="#161616" textLength="167.7" lengthAdjust="spacingAndGlyphs" stroke="#161616" stroke-width="0.18">tions. A central network takes advantage</text>
<text x="395.4" y="232.8" font-size="9.0" fill="#161616" textLength="161.5" lengthAdjust="spacingAndGlyphs" stroke="#161616" stroke-width="0.18">of the geographic proximity and central</text>
<text x="395.4" y="243.8" font-size="9.0" fill="#161616" textLength="165.0" lengthAdjust="spacingAndGlyphs" stroke="#161616" stroke-width="0.18">exploitation of existing heating and coo-</text>
<text x="395.4" y="254.8" font-size="9.0" fill="#161616" textLength="172.7" lengthAdjust="spacingAndGlyphs" stroke="#161616" stroke-width="0.18">ling. If one customer requires heating at the</text>
<text x="395.4" y="265.7" font-size="9.0" fill="#161616" textLength="159.2" lengthAdjust="spacingAndGlyphs" stroke="#161616" stroke-width="0.18">same time as another requires cooling,</text>
<text x="395.4" y="276.7" font-size="9.0" fill="#161616" textLength="164.8" lengthAdjust="spacingAndGlyphs" stroke="#161616" stroke-width="0.18">their needs can be met with a combined</text>
<text x="395.4" y="287.7" font-size="9.0" fill="#161616" textLength="168.3" lengthAdjust="spacingAndGlyphs" stroke="#161616" stroke-width="0.18">heat pump/refrigeration plant, an energy-</text>
<text x="395.4" y="298.7" font-size="9.0" fill="#161616" textLength="69.4" lengthAdjust="spacingAndGlyphs" stroke="#161616" stroke-width="0.18">efficient solution.</text>
<text x="622.1" y="177.9" font-size="9.0" font-weight="700" fill="#161616" textLength="141.3" lengthAdjust="spacingAndGlyphs" stroke="#161616" stroke-width="0.3">The Schlieren energy network.</text>
<text x="622.1" y="188.9" font-size="9.0" fill="#161616" textLength="164.2" lengthAdjust="spacingAndGlyphs" stroke="#161616" stroke-width="0.18">In Schlieren, a pipeline to the Werdhölzli</text>
<text x="622.1" y="199.9" font-size="9.0" fill="#161616" textLength="168.6" lengthAdjust="spacingAndGlyphs" stroke="#161616" stroke-width="0.18">wastewater treatment plant equalizes the</text>
<text x="622.1" y="210.8" font-size="9.0" fill="#161616" textLength="164.2" lengthAdjust="spacingAndGlyphs" stroke="#161616" stroke-width="0.18">difference between heating and cooling,</text>
<text x="622.1" y="221.8" font-size="9.0" fill="#161616" textLength="171.1" lengthAdjust="spacingAndGlyphs" stroke="#161616" stroke-width="0.18">with treated wastewater being pumped to</text>
<text x="622.1" y="232.8" font-size="9.0" fill="#161616" textLength="171.1" lengthAdjust="spacingAndGlyphs" stroke="#161616" stroke-width="0.18">the energy centres. An increased demand</text>
<text x="622.1" y="243.8" font-size="9.0" fill="#161616" textLength="166.1" lengthAdjust="spacingAndGlyphs" stroke="#161616" stroke-width="0.18">for cooling produces a surplus of heated</text>
<text x="622.1" y="254.8" font-size="9.0" fill="#161616" textLength="164.4" lengthAdjust="spacingAndGlyphs" stroke="#161616" stroke-width="0.18">water, which is then recooled with water</text>
<text x="622.1" y="265.7" font-size="9.0" fill="#161616" textLength="165.0" lengthAdjust="spacingAndGlyphs" stroke="#161616" stroke-width="0.18">from the treatment plant. This is a highly</text>
<text x="622.1" y="276.7" font-size="9.0" fill="#161616" textLength="162.8" lengthAdjust="spacingAndGlyphs" stroke="#161616" stroke-width="0.18">efficient cooling, since the water is typi-</text>
<text x="622.1" y="287.7" font-size="9.0" fill="#161616" textLength="170.6" lengthAdjust="spacingAndGlyphs" stroke="#161616" stroke-width="0.18">cally colder than the outdoor temperature</text>
<text x="622.1" y="298.7" font-size="9.0" fill="#161616" textLength="168.6" lengthAdjust="spacingAndGlyphs" stroke="#161616" stroke-width="0.18">in the summer. If there is greater demand</text>
<text x="622.1" y="309.7" font-size="9.0" fill="#161616" textLength="171.1" lengthAdjust="spacingAndGlyphs" stroke="#161616" stroke-width="0.18">for heating than for cooling, the treatment</text>
<text x="622.1" y="320.6" font-size="9.0" fill="#161616" textLength="161.7" lengthAdjust="spacingAndGlyphs" stroke="#161616" stroke-width="0.18">plant water is used as a source for heat</text>
<text x="622.1" y="331.6" font-size="9.0" fill="#161616" textLength="30.2" lengthAdjust="spacingAndGlyphs" stroke="#161616" stroke-width="0.18">pumps.</text>
<text x="806.4" y="177.9" font-size="9.0" font-weight="700" fill="#161616" textLength="73.8" lengthAdjust="spacingAndGlyphs" stroke="#161616" stroke-width="0.3">Energy balance.</text>
<text x="806.4" y="188.9" font-size="9.0" fill="#161616" textLength="170.9" lengthAdjust="spacingAndGlyphs" stroke="#161616" stroke-width="0.18">The waste heat produced by cooling sup-</text>
<text x="806.4" y="199.9" font-size="9.0" fill="#161616" textLength="165.5" lengthAdjust="spacingAndGlyphs" stroke="#161616" stroke-width="0.18">plies approximately 30 % of the required</text>
<text x="806.4" y="210.8" font-size="9.0" fill="#161616" textLength="164.4" lengthAdjust="spacingAndGlyphs" stroke="#161616" stroke-width="0.18">heat; some 55 % is supplied by the heat</text>
<text x="806.4" y="221.8" font-size="9.0" fill="#161616" textLength="172.5" lengthAdjust="spacingAndGlyphs" stroke="#161616" stroke-width="0.18">pump, with wastewater from the treatment</text>
<text x="806.4" y="232.8" font-size="9.0" fill="#161616" textLength="154.7" lengthAdjust="spacingAndGlyphs" stroke="#161616" stroke-width="0.18">plant serving as a source. This means</text>
<text x="806.4" y="243.8" font-size="9.0" fill="#161616" textLength="164.0" lengthAdjust="spacingAndGlyphs" stroke="#161616" stroke-width="0.18">that only 15 % of the required heat must</text>
<text x="806.4" y="254.8" font-size="9.0" fill="#161616" textLength="108.9" lengthAdjust="spacingAndGlyphs" stroke="#161616" stroke-width="0.18">be supplied by fossil fuels.</text>
<text x="994.5" y="188.9" font-size="9.0" fill="#161616" textLength="134.3" lengthAdjust="spacingAndGlyphs" stroke="#161616" stroke-width="0.18">The use of wastewater offers the</text>
<text x="994.5" y="199.9" font-size="9.0" fill="#161616" textLength="89.6" lengthAdjust="spacingAndGlyphs" stroke="#161616" stroke-width="0.18">following advantages:</text>
<text x="1003.0" y="210.8" font-size="9.0" fill="#161616" textLength="92.1" lengthAdjust="spacingAndGlyphs" stroke="#161616" stroke-width="0.18">Year-round availability.</text>
<text x="1003.0" y="221.8" font-size="9.0" fill="#161616" textLength="154.9" lengthAdjust="spacingAndGlyphs" stroke="#161616" stroke-width="0.18">Ideal energy source for the heat pump</text>
<text x="1003.0" y="232.8" font-size="9.0" fill="#161616" textLength="65.3" lengthAdjust="spacingAndGlyphs" stroke="#161616" stroke-width="0.18">used in heating.</text>
<text x="1003.0" y="243.8" font-size="9.0" fill="#161616" textLength="115.2" lengthAdjust="spacingAndGlyphs" stroke="#161616" stroke-width="0.18">Energy source for recooling.</text>
<text x="1003.0" y="254.8" font-size="9.0" fill="#161616" textLength="127.0" lengthAdjust="spacingAndGlyphs" stroke="#161616" stroke-width="0.18">Cost-effective if heat density is</text>
<text x="1003.0" y="265.7" font-size="9.0" fill="#161616" textLength="39.3" lengthAdjust="spacingAndGlyphs" stroke="#161616" stroke-width="0.18">sufficient.</text>
<text x="1003.0" y="276.7" font-size="9.0" fill="#161616" textLength="136.2" lengthAdjust="spacingAndGlyphs" stroke="#161616" stroke-width="0.18">Simple technical implementation.</text>
<text x="1400.8" y="177.9" font-size="9.0" font-weight="700" fill="#161616" textLength="171.2" lengthAdjust="spacingAndGlyphs" stroke="#161616" stroke-width="0.3">Locations for waste heat use, energy</text>
<text x="1400.8" y="188.9" font-size="9.0" font-weight="700" fill="#161616" textLength="164.4" lengthAdjust="spacingAndGlyphs" stroke="#161616" stroke-width="0.3">from wastewater and central power</text>
<text x="1400.8" y="199.9" font-size="9.0" font-weight="700" fill="#161616" textLength="52.6" lengthAdjust="spacingAndGlyphs" stroke="#161616" stroke-width="0.3">production.</text>
<text x="1400.8" y="210.8" font-size="9.0" fill="#161616" textLength="160.6" lengthAdjust="spacingAndGlyphs" stroke="#161616" stroke-width="0.18">The boundaries of the Schlieren energy</text>
<text x="1400.8" y="221.8" font-size="9.0" fill="#161616" textLength="164.4" lengthAdjust="spacingAndGlyphs" stroke="#161616" stroke-width="0.18">network are defined in Schlieren’s muni-</text>
<text x="1400.8" y="232.8" font-size="9.0" fill="#161616" textLength="168.1" lengthAdjust="spacingAndGlyphs" stroke="#161616" stroke-width="0.18">cipal energy plan, as ratified in 2004. The</text>
<text x="1400.8" y="243.8" font-size="9.0" fill="#161616" textLength="168.1" lengthAdjust="spacingAndGlyphs" stroke="#161616" stroke-width="0.18">medium-term goal is to connect a signifi-</text>
<text x="1400.8" y="254.8" font-size="9.0" fill="#161616" textLength="161.5" lengthAdjust="spacingAndGlyphs" stroke="#161616" stroke-width="0.18">cant number of users to the network so</text>
<text x="1583.9" y="177.9" font-size="9.0" font-weight="700" fill="#161616" textLength="159.8" lengthAdjust="spacingAndGlyphs" stroke="#161616" stroke-width="0.3">ewz granted concession as energy</text>
<text x="1583.9" y="188.9" font-size="9.0" font-weight="700" fill="#161616" textLength="39.5" lengthAdjust="spacingAndGlyphs" stroke="#161616" stroke-width="0.3">supplier.</text>
<text x="1583.9" y="199.9" font-size="9.0" fill="#161616" textLength="171.0" lengthAdjust="spacingAndGlyphs" stroke="#161616" stroke-width="0.18">The energyplan provides for the establish-</text>
<text x="1583.9" y="210.8" font-size="9.0" fill="#161616" textLength="150.4" lengthAdjust="spacingAndGlyphs" stroke="#161616" stroke-width="0.18">ment of an energy network along the</text>
<text x="1583.9" y="221.8" font-size="9.0" fill="#161616" textLength="164.2" lengthAdjust="spacingAndGlyphs" stroke="#161616" stroke-width="0.18">railway line in the valley to exploit waste</text>
<text x="1583.9" y="232.8" font-size="9.0" fill="#161616" textLength="170.6" lengthAdjust="spacingAndGlyphs" stroke="#161616" stroke-width="0.18">heat from industrial facilities, ambient heat,</text>
<text x="1583.9" y="243.8" font-size="9.0" fill="#161616" textLength="153.6" lengthAdjust="spacingAndGlyphs" stroke="#161616" stroke-width="0.18">and heat produced from groundwater</text>
<text x="1583.9" y="254.8" font-size="9.0" fill="#161616" textLength="160.0" lengthAdjust="spacingAndGlyphs" stroke="#161616" stroke-width="0.18">and wastewater. The plan also sets out</text>
<text x="1583.9" y="265.7" font-size="9.0" fill="#161616" textLength="166.2" lengthAdjust="spacingAndGlyphs" stroke="#161616" stroke-width="0.18">the implementation of the energy-supply</text>
<text x="1583.9" y="276.7" font-size="9.0" fill="#161616" textLength="153.8" lengthAdjust="spacingAndGlyphs" stroke="#161616" stroke-width="0.18">concept, calling for the network to be</text>
<text x="1583.9" y="287.7" font-size="9.0" fill="#161616" textLength="161.0" lengthAdjust="spacingAndGlyphs" stroke="#161616" stroke-width="0.18">developed and operated in accordance</text>
<text x="1583.9" y="298.7" font-size="9.0" fill="#161616" textLength="66.1" lengthAdjust="spacingAndGlyphs" stroke="#161616" stroke-width="0.18">with the market.</text>
<text x="1809.8" y="177.9" font-size="9.0" fill="#161616" textLength="170.2" lengthAdjust="spacingAndGlyphs" stroke="#161616" stroke-width="0.18">Schlieren carried out a contractor evalua-</text>
<text x="1809.8" y="188.9" font-size="9.0" fill="#161616" textLength="165.4" lengthAdjust="spacingAndGlyphs" stroke="#161616" stroke-width="0.18">tion for construction and operation of its</text>
<text x="1809.8" y="199.9" font-size="9.0" fill="#161616" textLength="171.6" lengthAdjust="spacingAndGlyphs" stroke="#161616" stroke-width="0.18">energy network on this basis in early 2005.</text>
<text x="1809.8" y="210.8" font-size="9.0" fill="#161616" textLength="154.4" lengthAdjust="spacingAndGlyphs" stroke="#161616" stroke-width="0.18">ewz was awarded the contract on the</text>
<text x="1809.8" y="221.8" font-size="9.0" fill="#161616" textLength="166.2" lengthAdjust="spacingAndGlyphs" stroke="#161616" stroke-width="0.18">strength of its integrated concept for the</text>
<text x="1809.8" y="232.8" font-size="9.0" fill="#161616" textLength="160.6" lengthAdjust="spacingAndGlyphs" stroke="#161616" stroke-width="0.18">phased development of the entire area,</text>
<text x="1809.8" y="243.8" font-size="9.0" fill="#161616" textLength="153.1" lengthAdjust="spacingAndGlyphs" stroke="#161616" stroke-width="0.18">on the principle that work must begin</text>
<text x="1809.8" y="254.8" font-size="9.0" fill="#161616" textLength="171.4" lengthAdjust="spacingAndGlyphs" stroke="#161616" stroke-width="0.18">locally and be linked up later. The conces-</text>
<text x="1809.8" y="265.7" font-size="9.0" fill="#161616" textLength="167.5" lengthAdjust="spacingAndGlyphs" stroke="#161616" stroke-width="0.18">sion is to run for 35 years, with an option</text>
<text x="1809.8" y="276.7" font-size="9.0" fill="#161616" textLength="151.9" lengthAdjust="spacingAndGlyphs" stroke="#161616" stroke-width="0.18">for future extension. It entitles ewz to</text>
<text x="1809.8" y="287.7" font-size="9.0" fill="#161616" textLength="171.0" lengthAdjust="spacingAndGlyphs" stroke="#161616" stroke-width="0.18">lay lines and cables for an energy network</text>
<text x="1809.8" y="298.7" font-size="9.0" fill="#161616" textLength="95.6" lengthAdjust="spacingAndGlyphs" stroke="#161616" stroke-width="0.18">within the defined area.</text>
<text x="1993.1" y="177.9" font-size="9.0" font-weight="700" fill="#161616" textLength="136.5" lengthAdjust="spacingAndGlyphs" stroke="#161616" stroke-width="0.3">Implementation of the energy</text>
<text x="1993.1" y="188.9" font-size="9.0" font-weight="700" fill="#161616" textLength="40.1" lengthAdjust="spacingAndGlyphs" stroke="#161616" stroke-width="0.3">network.</text>
<text x="1993.1" y="199.9" font-size="9.0" fill="#161616" textLength="163.7" lengthAdjust="spacingAndGlyphs" stroke="#161616" stroke-width="0.18">ewz began in 2005 with the planning for</text>
<text x="1993.1" y="210.8" font-size="9.0" fill="#161616" textLength="166.0" lengthAdjust="spacingAndGlyphs" stroke="#161616" stroke-width="0.18">the implementation of the Schlieren ener-</text>
<text x="1993.1" y="221.8" font-size="9.0" fill="#161616" textLength="171.0" lengthAdjust="spacingAndGlyphs" stroke="#161616" stroke-width="0.18">gy concept and the supply of heating and</text>
<text x="1993.1" y="232.8" font-size="9.0" fill="#161616" textLength="151.9" lengthAdjust="spacingAndGlyphs" stroke="#161616" stroke-width="0.18">cooling to the Mülligen post building.</text>
<text x="1993.1" y="243.8" font-size="9.0" fill="#161616" textLength="158.9" lengthAdjust="spacingAndGlyphs" stroke="#161616" stroke-width="0.18">The next phase includes the continued</text>
<text x="1993.1" y="254.8" font-size="9.0" fill="#161616" textLength="144.8" lengthAdjust="spacingAndGlyphs" stroke="#161616" stroke-width="0.18">extension of the two sub-networks.</text>
<text x="27.1" y="408.1" font-size="7" fill="#161616" textLength="66.8" lengthAdjust="spacingAndGlyphs" stroke="#161616" stroke-width="0.18">The city of Schlieren.</text>
<text x="27.1" y="550.8" font-size="7" fill="#161616" textLength="130.9" lengthAdjust="spacingAndGlyphs" stroke="#161616" stroke-width="0.18">Building the transmission pipeline trench.</text>
<text x="27.1" y="694.0" font-size="7" fill="#161616" textLength="106.9" lengthAdjust="spacingAndGlyphs" stroke="#161616" stroke-width="0.18">Assembling the cooling pipelines.</text>
<text x="395.6" y="411.7" font-size="9" font-weight="700" fill="#111" textLength="270.6" lengthAdjust="spacingAndGlyphs" stroke="#111" stroke-width="0.3">Heating/cooling concept for the Schlieren energy network.</text>
<text x="395.9" y="609.7" font-size="9" font-weight="700" fill="#111" textLength="221.6" lengthAdjust="spacingAndGlyphs" stroke="#111" stroke-width="0.3">The Schlieren energy network’s energy balance.</text>
<text x="1401.0" y="411.9" font-size="9" font-weight="700" fill="#111" textLength="332.4" lengthAdjust="spacingAndGlyphs" stroke="#111" stroke-width="0.3">The Schlieren energy network: coverage of supply by energy producers.</text>
<text x="1217.7" y="592.6" font-size="9" font-weight="700" fill="#111" textLength="195.9" lengthAdjust="spacingAndGlyphs" stroke="#111" stroke-width="0.3">Overview of the Schlieren energy network.</text>
<text x="403.9" y="631.8" font-size="9.2" fill="#161616" textLength="172.3" lengthAdjust="spacingAndGlyphs" stroke="#161616" stroke-width="0.18">Existing energy network using waste heat.</text>
<text x="814.2" y="634.0" font-size="9.2" fill="#161616" textLength="209.0" lengthAdjust="spacingAndGlyphs" stroke="#161616" stroke-width="0.18">Decentralized conventional energy supply not built.</text>
<text x="1642.8" y="822.5" font-size="5" fill="#161616" textLength="113.4" lengthAdjust="spacingAndGlyphs" stroke="#161616" stroke-width="0.18">Reproduction granted by Swisstopo (BA 081299).</text>
<text x="1400.8" y="265.7" font-size="9" fill="#161616" stroke="#161616" stroke-width="0.18" textLength="116.0" lengthAdjust="spacingAndGlyphs">as to reduce CO<tspan font-size="5.5" dy="1.2">2</tspan><tspan dy="-1.2"> emissions.</tspan></text>
</g>
</svg></body></html>
